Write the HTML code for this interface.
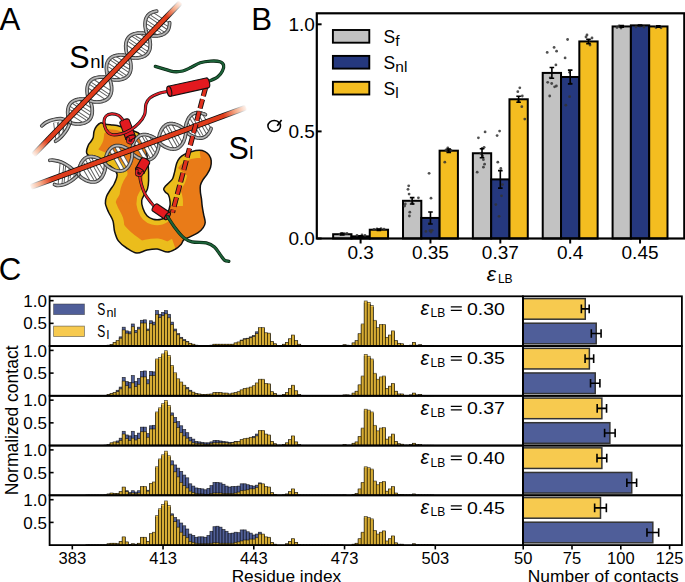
<!DOCTYPE html>
<html><head><meta charset="utf-8"><style>html,body{margin:0;padding:0;background:#fff;}svg{display:block;}</style></head>
<body><svg width="685" height="582" viewBox="0 0 685 582">
<defs>
<clipPath id="blobclip"><path d="M96.5 126.3 C97.6 124.9 99.1 123.2 100.6 122.9 C102.1 122.6 103.6 123.9 105.4 124.2 C107.2 124.5 109.6 124.7 111.6 124.9 C113.5 125.1 114.9 125.1 117.1 125.6 C119.3 126.1 122.2 127.1 125.0 128.0 C127.8 128.9 131.1 129.9 133.6 131.0 C136.1 132.1 138.0 131.7 140.0 134.5 C142.0 137.3 144.1 142.9 145.5 148.0 C146.9 153.1 147.7 159.6 148.2 165.0 C148.7 170.4 148.7 176.6 148.6 180.6 C148.5 184.6 148.2 186.6 147.5 188.9 C146.8 191.2 145.5 192.5 144.5 194.4 C143.5 196.3 142.0 198.2 141.7 200.5 C141.4 202.8 142.0 205.6 142.9 208.2 C143.8 210.8 145.3 214.0 147.0 215.8 C148.7 217.6 150.7 218.6 153.1 219.2 C155.5 219.8 159.1 219.7 161.3 219.2 C163.5 218.7 165.1 218.2 166.5 216.0 C167.9 213.8 169.3 208.6 169.9 206.0 C170.5 203.4 170.1 202.3 169.9 200.5 C169.7 198.7 169.2 196.4 168.5 195.0 C167.8 193.6 166.3 193.2 165.5 192.2 C164.7 191.2 163.7 190.2 163.7 189.2 C163.7 188.2 164.4 187.4 165.3 186.3 C166.2 185.2 168.0 183.9 169.2 182.6 C170.4 181.3 171.8 180.3 172.7 178.5 C173.6 176.7 174.0 174.1 174.7 171.6 C175.3 169.1 175.8 165.7 176.6 163.4 C177.4 161.1 178.3 159.4 179.6 157.9 C180.9 156.4 182.5 155.4 184.4 154.4 C186.3 153.4 188.7 152.4 191.2 151.7 C193.7 151.0 197.2 150.3 199.5 150.3 C201.8 150.3 203.4 150.9 205.0 151.7 C206.6 152.5 208.1 153.6 209.1 155.1 C210.1 156.6 211.0 158.5 211.2 160.6 C211.4 162.7 211.2 165.2 210.5 167.5 C209.8 169.8 208.3 172.3 207.0 174.4 C205.7 176.5 204.0 178.1 202.9 179.9 C201.8 181.7 200.8 183.4 200.4 185.4 C200.0 187.4 200.2 189.9 200.4 192.2 C200.6 194.5 201.2 196.8 201.5 199.1 C201.8 201.4 201.8 203.6 202.2 206.1 C202.5 208.6 203.1 211.6 203.6 214.3 C204.1 217.0 205.3 220.3 205.2 222.5 C205.1 224.7 204.4 225.9 203.2 227.6 C202.0 229.3 200.3 231.2 198.1 232.7 C195.9 234.2 192.3 235.6 189.9 236.8 C187.5 238.0 185.3 238.6 183.8 239.9 C182.3 241.2 182.4 243.0 181.0 244.5 C179.6 246.0 177.9 247.7 175.6 249.0 C173.3 250.3 170.5 252.1 167.4 252.1 C164.3 252.1 160.6 249.3 157.2 249.0 C153.8 248.7 150.4 249.4 147.0 250.1 C143.6 250.8 140.2 253.4 136.8 253.1 C133.4 252.8 129.7 250.0 126.6 248.0 C123.5 246.0 120.4 243.7 118.4 240.9 C116.4 238.2 115.5 234.8 114.6 231.5 C113.7 228.2 114.0 224.2 113.0 221.0 C112.0 217.8 109.8 214.9 108.5 212.0 C107.2 209.1 105.7 206.1 105.4 203.5 C105.1 200.9 105.7 198.8 106.5 196.5 C107.3 194.2 109.2 191.7 110.5 189.5 C111.8 187.3 113.3 186.1 114.4 183.5 C115.5 180.9 117.7 176.9 117.0 174.0 C116.3 171.1 113.5 168.3 110.0 166.0 C106.5 163.7 99.8 162.1 96.0 160.0 C92.2 157.9 88.2 156.0 86.9 153.6 C85.6 151.2 87.5 147.5 88.2 145.5 C88.9 143.5 90.2 142.8 91.0 141.5 C91.8 140.2 92.7 139.2 93.2 137.5 C93.7 135.8 93.5 133.4 94.0 131.5 C94.5 129.6 95.4 127.7 96.5 126.3 Z"/></clipPath>
</defs>
<line x1="60.5" y1="121.5" x2="61.5" y2="134.5" stroke="#5c5c5c" stroke-width="4.7"/>
<line x1="60.5" y1="121.5" x2="61.5" y2="134.5" stroke="#fff" stroke-width="2.8"/>
<line x1="55.5" y1="122.5" x2="57.5" y2="138.5" stroke="#5c5c5c" stroke-width="4.7"/>
<line x1="55.5" y1="122.5" x2="57.5" y2="138.5" stroke="#fff" stroke-width="2.8"/>
<line x1="65.5" y1="120.5" x2="65.5" y2="130.5" stroke="#5c5c5c" stroke-width="4.7"/>
<line x1="65.5" y1="120.5" x2="65.5" y2="130.5" stroke="#fff" stroke-width="2.8"/>
<path d="M70.2 122.3 C68.8 121.7 64.9 119.2 62.0 118.8 C59.1 118.4 55.7 119.2 53.0 119.8 C50.3 120.4 47.9 121.5 46.0 122.5 C44.1 123.5 42.5 125.2 41.8 125.8" fill="none" stroke="#2e2e2e" stroke-width="3.7" stroke-linecap="round" stroke-linejoin="round"/>
<path d="M70.2 122.3 C68.8 121.7 64.9 119.2 62.0 118.8 C59.1 118.4 55.7 119.2 53.0 119.8 C50.3 120.4 47.9 121.5 46.0 122.5 C44.1 123.5 42.5 125.2 41.8 125.8" fill="none" stroke="#8c8c8c" stroke-width="2.3" stroke-linecap="round" stroke-linejoin="round"/>
<path d="M70.2 122.3 C68.8 121.7 64.9 119.2 62.0 118.8 C59.1 118.4 55.7 119.2 53.0 119.8 C50.3 120.4 47.9 121.5 46.0 122.5 C44.1 123.5 42.5 125.2 41.8 125.8" fill="none" stroke="#d8d8d8" stroke-width="0.8" stroke-linecap="round" stroke-linejoin="round"/>
<path d="M70.2 122.3 C69.7 123.4 68.4 126.9 67.2 129.0 C66.0 131.1 64.4 133.1 63.0 134.8 C61.6 136.5 59.8 138.1 58.6 139.2 C57.4 140.3 56.1 140.9 55.6 141.2" fill="none" stroke="#2e2e2e" stroke-width="3.7" stroke-linecap="round" stroke-linejoin="round"/>
<path d="M70.2 122.3 C69.7 123.4 68.4 126.9 67.2 129.0 C66.0 131.1 64.4 133.1 63.0 134.8 C61.6 136.5 59.8 138.1 58.6 139.2 C57.4 140.3 56.1 140.9 55.6 141.2" fill="none" stroke="#8c8c8c" stroke-width="2.3" stroke-linecap="round" stroke-linejoin="round"/>
<path d="M70.2 122.3 C69.7 123.4 68.4 126.9 67.2 129.0 C66.0 131.1 64.4 133.1 63.0 134.8 C61.6 136.5 59.8 138.1 58.6 139.2 C57.4 140.3 56.1 140.9 55.6 141.2" fill="none" stroke="#d8d8d8" stroke-width="0.8" stroke-linecap="round" stroke-linejoin="round"/>
<line x1="68.9" y1="111.2" x2="84.8" y2="121.5" stroke="#5c5c5c" stroke-width="4.7"/>
<line x1="68.9" y1="111.2" x2="84.8" y2="121.5" stroke="#fff" stroke-width="2.8"/>
<line x1="71.2" y1="104.8" x2="89.5" y2="117.1" stroke="#5c5c5c" stroke-width="4.7"/>
<line x1="71.2" y1="104.8" x2="89.5" y2="117.1" stroke="#fff" stroke-width="2.8"/>
<line x1="76.6" y1="101.0" x2="91.2" y2="110.1" stroke="#5c5c5c" stroke-width="4.7"/>
<line x1="76.6" y1="101.0" x2="91.2" y2="110.1" stroke="#fff" stroke-width="2.8"/>
<line x1="88.8" y1="86.2" x2="106.5" y2="98.0" stroke="#5c5c5c" stroke-width="4.7"/>
<line x1="88.8" y1="86.2" x2="106.5" y2="98.0" stroke="#fff" stroke-width="2.8"/>
<line x1="92.4" y1="80.8" x2="110.0" y2="92.5" stroke="#5c5c5c" stroke-width="4.7"/>
<line x1="92.4" y1="80.8" x2="110.0" y2="92.5" stroke="#fff" stroke-width="2.8"/>
<line x1="107.5" y1="68.5" x2="122.4" y2="77.9" stroke="#5c5c5c" stroke-width="4.7"/>
<line x1="107.5" y1="68.5" x2="122.4" y2="77.9" stroke="#fff" stroke-width="2.8"/>
<line x1="109.3" y1="61.6" x2="127.7" y2="74.0" stroke="#5c5c5c" stroke-width="4.7"/>
<line x1="109.3" y1="61.6" x2="127.7" y2="74.0" stroke="#fff" stroke-width="2.8"/>
<line x1="114.2" y1="57.4" x2="129.8" y2="67.4" stroke="#5c5c5c" stroke-width="4.7"/>
<line x1="114.2" y1="57.4" x2="129.8" y2="67.4" stroke="#fff" stroke-width="2.8"/>
<line x1="127.2" y1="43.2" x2="144.3" y2="54.6" stroke="#5c5c5c" stroke-width="4.7"/>
<line x1="127.2" y1="43.2" x2="144.3" y2="54.6" stroke="#fff" stroke-width="2.8"/>
<line x1="130.3" y1="37.5" x2="148.3" y2="49.5" stroke="#5c5c5c" stroke-width="4.7"/>
<line x1="130.3" y1="37.5" x2="148.3" y2="49.5" stroke="#fff" stroke-width="2.8"/>
<line x1="136.6" y1="34.4" x2="149.1" y2="41.8" stroke="#5c5c5c" stroke-width="4.7"/>
<line x1="136.6" y1="34.4" x2="149.1" y2="41.8" stroke="#fff" stroke-width="2.8"/>
<line x1="146.1" y1="25.8" x2="160.0" y2="34.2" stroke="#5c5c5c" stroke-width="4.7"/>
<line x1="146.1" y1="25.8" x2="160.0" y2="34.2" stroke="#fff" stroke-width="2.8"/>
<line x1="147.5" y1="18.5" x2="165.7" y2="30.8" stroke="#5c5c5c" stroke-width="4.7"/>
<line x1="147.5" y1="18.5" x2="165.7" y2="30.8" stroke="#fff" stroke-width="2.8"/>
<line x1="151.9" y1="13.9" x2="168.4" y2="24.6" stroke="#5c5c5c" stroke-width="4.7"/>
<line x1="151.9" y1="13.9" x2="168.4" y2="24.6" stroke="#fff" stroke-width="2.8"/>
<path d="M70.3 122.5 L72.5 123.4 L74.1 123.7 L75.5 123.9 L76.8 123.9 L78.1 124.0 L79.2 123.9 L80.4 123.8 L81.4 123.7 L82.4 123.5 L83.4 123.3 L84.3 123.0 L85.1 122.7 L85.9 122.3 L86.7 121.9 L87.4 121.5 L88.1 121.0 L88.7 120.5 L89.3 119.9 L89.8 119.3 L90.3 118.6 L90.7 117.9 L91.0 117.2 L91.4 116.4 L91.6 115.6 L91.9 114.7 L92.0 113.8 L92.2 112.8 L92.2 111.8 L92.3 110.8 L92.2 109.7 L92.2 108.5 L92.0 107.3 L91.8 106.1 L91.5 104.8 L91.1 103.3 L90.4 101.6 L88.9 99.2 L88.2 97.6 L87.8 96.1 L87.5 94.8 L87.3 93.6 L87.2 92.4 L87.1 91.2 L87.1 90.1 L87.1 89.1 L87.2 88.1 L87.3 87.1 L87.5 86.2 L87.7 85.4 L88.0 84.5 L88.3 83.8 L88.7 83.0 L89.1 82.3 L89.6 81.7 L90.1 81.1 L90.7 80.5 L91.3 80.0 L92.0 79.5 L92.7 79.0 L93.5 78.6 L94.3 78.3 L95.1 78.0 L96.0 77.7 L97.0 77.5 L98.0 77.3 L99.1 77.2 L100.2 77.1 L101.4 77.0 L102.6 77.1 L103.9 77.1 L105.3 77.3 L106.9 77.7 L109.3 78.7 L111.4 79.4 L112.9 79.7 L114.3 79.9 L115.6 79.9 L116.9 80.0 L118.0 79.9 L119.1 79.8 L120.2 79.7 L121.2 79.5 L122.1 79.2 L123.0 79.0 L123.9 78.6 L124.7 78.3 L125.4 77.9 L126.2 77.4 L126.8 76.9 L127.4 76.4 L128.0 75.8 L128.5 75.2 L129.0 74.5 L129.4 73.8 L129.7 73.1 L130.1 72.3 L130.3 71.5 L130.6 70.6 L130.7 69.7 L130.9 68.7 L130.9 67.7 L130.9 66.7 L130.9 65.6 L130.8 64.4 L130.7 63.2 L130.5 62.0 L130.2 60.6 L129.7 59.2 L129.0 57.5 L127.5 55.0 L126.8 53.4 L126.4 52.0 L126.2 50.7 L126.0 49.4 L125.8 48.3 L125.8 47.1 L125.7 46.0 L125.8 45.0 L125.9 44.0 L126.0 43.1 L126.2 42.2 L126.4 41.3 L126.7 40.5 L127.0 39.7 L127.4 39.0 L127.8 38.3 L128.3 37.6 L128.8 37.0 L129.4 36.4 L130.0 35.9 L130.7 35.4 L131.4 35.0 L132.2 34.6 L133.0 34.3 L133.9 33.9 L134.8 33.7 L135.8 33.5 L136.8 33.3 L137.8 33.1 L139.0 33.1 L140.1 33.0 L141.4 33.0 L142.7 33.1 L144.1 33.3 L145.8 33.7 L148.3 34.8 L150.2 35.4 L151.7 35.7 L153.1 35.9 L154.4 35.9 L155.6 35.9 L156.8 35.9 L157.9 35.8 L158.9 35.6 L159.9 35.4 L160.9 35.2 L161.8 34.9 L162.6 34.6 L163.4 34.2 L164.2 33.8 L164.9 33.4 L165.5 32.9 L166.1 32.3 L166.7 31.8 L167.2 31.1 L167.7 30.5 L168.1 29.8 L168.5 29.0 L168.8 28.2 L169.0 27.4 L169.2 26.5 L169.4 25.6 L169.5 24.6 L169.6 23.6 L169.6 22.6" fill="none" stroke="#2e2e2e" stroke-width="3.7" stroke-linecap="round" stroke-linejoin="round"/>
<path d="M70.3 122.5 L72.5 123.4 L74.1 123.7 L75.5 123.9 L76.8 123.9 L78.1 124.0 L79.2 123.9 L80.4 123.8 L81.4 123.7 L82.4 123.5 L83.4 123.3 L84.3 123.0 L85.1 122.7 L85.9 122.3 L86.7 121.9 L87.4 121.5 L88.1 121.0 L88.7 120.5 L89.3 119.9 L89.8 119.3 L90.3 118.6 L90.7 117.9 L91.0 117.2 L91.4 116.4 L91.6 115.6 L91.9 114.7 L92.0 113.8 L92.2 112.8 L92.2 111.8 L92.3 110.8 L92.2 109.7 L92.2 108.5 L92.0 107.3 L91.8 106.1 L91.5 104.8 L91.1 103.3 L90.4 101.6 L88.9 99.2 L88.2 97.6 L87.8 96.1 L87.5 94.8 L87.3 93.6 L87.2 92.4 L87.1 91.2 L87.1 90.1 L87.1 89.1 L87.2 88.1 L87.3 87.1 L87.5 86.2 L87.7 85.4 L88.0 84.5 L88.3 83.8 L88.7 83.0 L89.1 82.3 L89.6 81.7 L90.1 81.1 L90.7 80.5 L91.3 80.0 L92.0 79.5 L92.7 79.0 L93.5 78.6 L94.3 78.3 L95.1 78.0 L96.0 77.7 L97.0 77.5 L98.0 77.3 L99.1 77.2 L100.2 77.1 L101.4 77.0 L102.6 77.1 L103.9 77.1 L105.3 77.3 L106.9 77.7 L109.3 78.7 L111.4 79.4 L112.9 79.7 L114.3 79.9 L115.6 79.9 L116.9 80.0 L118.0 79.9 L119.1 79.8 L120.2 79.7 L121.2 79.5 L122.1 79.2 L123.0 79.0 L123.9 78.6 L124.7 78.3 L125.4 77.9 L126.2 77.4 L126.8 76.9 L127.4 76.4 L128.0 75.8 L128.5 75.2 L129.0 74.5 L129.4 73.8 L129.7 73.1 L130.1 72.3 L130.3 71.5 L130.6 70.6 L130.7 69.7 L130.9 68.7 L130.9 67.7 L130.9 66.7 L130.9 65.6 L130.8 64.4 L130.7 63.2 L130.5 62.0 L130.2 60.6 L129.7 59.2 L129.0 57.5 L127.5 55.0 L126.8 53.4 L126.4 52.0 L126.2 50.7 L126.0 49.4 L125.8 48.3 L125.8 47.1 L125.7 46.0 L125.8 45.0 L125.9 44.0 L126.0 43.1 L126.2 42.2 L126.4 41.3 L126.7 40.5 L127.0 39.7 L127.4 39.0 L127.8 38.3 L128.3 37.6 L128.8 37.0 L129.4 36.4 L130.0 35.9 L130.7 35.4 L131.4 35.0 L132.2 34.6 L133.0 34.3 L133.9 33.9 L134.8 33.7 L135.8 33.5 L136.8 33.3 L137.8 33.1 L139.0 33.1 L140.1 33.0 L141.4 33.0 L142.7 33.1 L144.1 33.3 L145.8 33.7 L148.3 34.8 L150.2 35.4 L151.7 35.7 L153.1 35.9 L154.4 35.9 L155.6 35.9 L156.8 35.9 L157.9 35.8 L158.9 35.6 L159.9 35.4 L160.9 35.2 L161.8 34.9 L162.6 34.6 L163.4 34.2 L164.2 33.8 L164.9 33.4 L165.5 32.9 L166.1 32.3 L166.7 31.8 L167.2 31.1 L167.7 30.5 L168.1 29.8 L168.5 29.0 L168.8 28.2 L169.0 27.4 L169.2 26.5 L169.4 25.6 L169.5 24.6 L169.6 23.6 L169.6 22.6" fill="none" stroke="#8c8c8c" stroke-width="2.3" stroke-linecap="round" stroke-linejoin="round"/>
<path d="M70.3 122.5 L72.5 123.4 L74.1 123.7 L75.5 123.9 L76.8 123.9 L78.1 124.0 L79.2 123.9 L80.4 123.8 L81.4 123.7 L82.4 123.5 L83.4 123.3 L84.3 123.0 L85.1 122.7 L85.9 122.3 L86.7 121.9 L87.4 121.5 L88.1 121.0 L88.7 120.5 L89.3 119.9 L89.8 119.3 L90.3 118.6 L90.7 117.9 L91.0 117.2 L91.4 116.4 L91.6 115.6 L91.9 114.7 L92.0 113.8 L92.2 112.8 L92.2 111.8 L92.3 110.8 L92.2 109.7 L92.2 108.5 L92.0 107.3 L91.8 106.1 L91.5 104.8 L91.1 103.3 L90.4 101.6 L88.9 99.2 L88.2 97.6 L87.8 96.1 L87.5 94.8 L87.3 93.6 L87.2 92.4 L87.1 91.2 L87.1 90.1 L87.1 89.1 L87.2 88.1 L87.3 87.1 L87.5 86.2 L87.7 85.4 L88.0 84.5 L88.3 83.8 L88.7 83.0 L89.1 82.3 L89.6 81.7 L90.1 81.1 L90.7 80.5 L91.3 80.0 L92.0 79.5 L92.7 79.0 L93.5 78.6 L94.3 78.3 L95.1 78.0 L96.0 77.7 L97.0 77.5 L98.0 77.3 L99.1 77.2 L100.2 77.1 L101.4 77.0 L102.6 77.1 L103.9 77.1 L105.3 77.3 L106.9 77.7 L109.3 78.7 L111.4 79.4 L112.9 79.7 L114.3 79.9 L115.6 79.9 L116.9 80.0 L118.0 79.9 L119.1 79.8 L120.2 79.7 L121.2 79.5 L122.1 79.2 L123.0 79.0 L123.9 78.6 L124.7 78.3 L125.4 77.9 L126.2 77.4 L126.8 76.9 L127.4 76.4 L128.0 75.8 L128.5 75.2 L129.0 74.5 L129.4 73.8 L129.7 73.1 L130.1 72.3 L130.3 71.5 L130.6 70.6 L130.7 69.7 L130.9 68.7 L130.9 67.7 L130.9 66.7 L130.9 65.6 L130.8 64.4 L130.7 63.2 L130.5 62.0 L130.2 60.6 L129.7 59.2 L129.0 57.5 L127.5 55.0 L126.8 53.4 L126.4 52.0 L126.2 50.7 L126.0 49.4 L125.8 48.3 L125.8 47.1 L125.7 46.0 L125.8 45.0 L125.9 44.0 L126.0 43.1 L126.2 42.2 L126.4 41.3 L126.7 40.5 L127.0 39.7 L127.4 39.0 L127.8 38.3 L128.3 37.6 L128.8 37.0 L129.4 36.4 L130.0 35.9 L130.7 35.4 L131.4 35.0 L132.2 34.6 L133.0 34.3 L133.9 33.9 L134.8 33.7 L135.8 33.5 L136.8 33.3 L137.8 33.1 L139.0 33.1 L140.1 33.0 L141.4 33.0 L142.7 33.1 L144.1 33.3 L145.8 33.7 L148.3 34.8 L150.2 35.4 L151.7 35.7 L153.1 35.9 L154.4 35.9 L155.6 35.9 L156.8 35.9 L157.9 35.8 L158.9 35.6 L159.9 35.4 L160.9 35.2 L161.8 34.9 L162.6 34.6 L163.4 34.2 L164.2 33.8 L164.9 33.4 L165.5 32.9 L166.1 32.3 L166.7 31.8 L167.2 31.1 L167.7 30.5 L168.1 29.8 L168.5 29.0 L168.8 28.2 L169.0 27.4 L169.2 26.5 L169.4 25.6 L169.5 24.6 L169.6 23.6 L169.6 22.6" fill="none" stroke="#d8d8d8" stroke-width="0.8" stroke-linecap="round" stroke-linejoin="round"/>
<path d="M70.3 122.5 L69.2 120.4 L68.7 118.9 L68.3 117.5 L68.1 116.2 L67.9 115.0 L67.8 113.8 L67.7 112.7 L67.7 111.7 L67.8 110.6 L67.9 109.7 L68.1 108.7 L68.3 107.8 L68.5 107.0 L68.8 106.2 L69.2 105.4 L69.6 104.7 L70.0 104.0 L70.5 103.4 L71.0 102.8 L71.6 102.2 L72.3 101.7 L73.0 101.3 L73.7 100.9 L74.5 100.5 L75.3 100.1 L76.2 99.9 L77.1 99.6 L78.1 99.4 L79.2 99.2 L80.2 99.1 L81.4 99.1 L82.6 99.0 L83.9 99.1 L85.2 99.2 L86.7 99.5 L88.4 99.9 L91.1 101.1 L92.8 101.6 L94.2 101.8 L95.6 101.9 L96.9 102.0 L98.1 101.9 L99.2 101.9 L100.3 101.8 L101.3 101.6 L102.3 101.4 L103.2 101.1 L104.1 100.8 L104.9 100.5 L105.7 100.1 L106.4 99.7 L107.1 99.2 L107.8 98.7 L108.3 98.2 L108.9 97.6 L109.4 96.9 L109.8 96.2 L110.2 95.5 L110.6 94.7 L110.9 93.9 L111.1 93.1 L111.3 92.2 L111.5 91.3 L111.6 90.3 L111.6 89.2 L111.6 88.2 L111.6 87.1 L111.4 85.9 L111.3 84.7 L111.0 83.4 L110.6 82.0 L110.1 80.4 L108.8 78.2 L107.8 76.3 L107.3 74.8 L107.0 73.4 L106.7 72.1 L106.6 70.9 L106.5 69.7 L106.4 68.6 L106.4 67.6 L106.5 66.6 L106.6 65.6 L106.7 64.6 L106.9 63.8 L107.2 62.9 L107.5 62.1 L107.9 61.4 L108.3 60.6 L108.7 60.0 L109.2 59.3 L109.8 58.7 L110.4 58.2 L111.0 57.7 L111.7 57.2 L112.4 56.8 L113.2 56.4 L114.1 56.1 L115.0 55.8 L115.9 55.6 L116.9 55.4 L117.9 55.2 L119.0 55.1 L120.2 55.0 L121.4 55.0 L122.6 55.1 L124.0 55.2 L125.5 55.5 L127.3 56.0 L129.9 57.2 L131.6 57.6 L133.0 57.8 L134.4 57.9 L135.6 58.0 L136.8 57.9 L138.0 57.9 L139.0 57.7 L140.1 57.6 L141.0 57.3 L142.0 57.1 L142.8 56.8 L143.7 56.4 L144.4 56.1 L145.2 55.6 L145.9 55.2 L146.5 54.7 L147.1 54.1 L147.6 53.5 L148.1 52.9 L148.5 52.2 L148.9 51.4 L149.3 50.7 L149.6 49.9 L149.8 49.0 L150.0 48.1 L150.1 47.2 L150.2 46.2 L150.3 45.1 L150.3 44.1 L150.2 43.0 L150.1 41.8 L149.9 40.5 L149.7 39.2 L149.3 37.9 L148.7 36.3 L147.3 34.0 L146.4 32.1 L145.9 30.6 L145.6 29.3 L145.4 28.0 L145.2 26.8 L145.1 25.6 L145.1 24.5 L145.1 23.5 L145.2 22.5 L145.3 21.5 L145.4 20.6 L145.6 19.7 L145.9 18.8 L146.2 18.0 L146.6 17.3 L147.0 16.6 L147.4 15.9 L147.9 15.3 L148.5 14.7 L149.1 14.1 L149.7 13.6 L150.4 13.2 L151.2 12.8 L152.0 12.4 L152.8 12.1 L153.7 11.8 L154.6 11.5 L155.6 11.3 L156.7 11.2" fill="none" stroke="#2e2e2e" stroke-width="3.7" stroke-linecap="round" stroke-linejoin="round"/>
<path d="M70.3 122.5 L69.2 120.4 L68.7 118.9 L68.3 117.5 L68.1 116.2 L67.9 115.0 L67.8 113.8 L67.7 112.7 L67.7 111.7 L67.8 110.6 L67.9 109.7 L68.1 108.7 L68.3 107.8 L68.5 107.0 L68.8 106.2 L69.2 105.4 L69.6 104.7 L70.0 104.0 L70.5 103.4 L71.0 102.8 L71.6 102.2 L72.3 101.7 L73.0 101.3 L73.7 100.9 L74.5 100.5 L75.3 100.1 L76.2 99.9 L77.1 99.6 L78.1 99.4 L79.2 99.2 L80.2 99.1 L81.4 99.1 L82.6 99.0 L83.9 99.1 L85.2 99.2 L86.7 99.5 L88.4 99.9 L91.1 101.1 L92.8 101.6 L94.2 101.8 L95.6 101.9 L96.9 102.0 L98.1 101.9 L99.2 101.9 L100.3 101.8 L101.3 101.6 L102.3 101.4 L103.2 101.1 L104.1 100.8 L104.9 100.5 L105.7 100.1 L106.4 99.7 L107.1 99.2 L107.8 98.7 L108.3 98.2 L108.9 97.6 L109.4 96.9 L109.8 96.2 L110.2 95.5 L110.6 94.7 L110.9 93.9 L111.1 93.1 L111.3 92.2 L111.5 91.3 L111.6 90.3 L111.6 89.2 L111.6 88.2 L111.6 87.1 L111.4 85.9 L111.3 84.7 L111.0 83.4 L110.6 82.0 L110.1 80.4 L108.8 78.2 L107.8 76.3 L107.3 74.8 L107.0 73.4 L106.7 72.1 L106.6 70.9 L106.5 69.7 L106.4 68.6 L106.4 67.6 L106.5 66.6 L106.6 65.6 L106.7 64.6 L106.9 63.8 L107.2 62.9 L107.5 62.1 L107.9 61.4 L108.3 60.6 L108.7 60.0 L109.2 59.3 L109.8 58.7 L110.4 58.2 L111.0 57.7 L111.7 57.2 L112.4 56.8 L113.2 56.4 L114.1 56.1 L115.0 55.8 L115.9 55.6 L116.9 55.4 L117.9 55.2 L119.0 55.1 L120.2 55.0 L121.4 55.0 L122.6 55.1 L124.0 55.2 L125.5 55.5 L127.3 56.0 L129.9 57.2 L131.6 57.6 L133.0 57.8 L134.4 57.9 L135.6 58.0 L136.8 57.9 L138.0 57.9 L139.0 57.7 L140.1 57.6 L141.0 57.3 L142.0 57.1 L142.8 56.8 L143.7 56.4 L144.4 56.1 L145.2 55.6 L145.9 55.2 L146.5 54.7 L147.1 54.1 L147.6 53.5 L148.1 52.9 L148.5 52.2 L148.9 51.4 L149.3 50.7 L149.6 49.9 L149.8 49.0 L150.0 48.1 L150.1 47.2 L150.2 46.2 L150.3 45.1 L150.3 44.1 L150.2 43.0 L150.1 41.8 L149.9 40.5 L149.7 39.2 L149.3 37.9 L148.7 36.3 L147.3 34.0 L146.4 32.1 L145.9 30.6 L145.6 29.3 L145.4 28.0 L145.2 26.8 L145.1 25.6 L145.1 24.5 L145.1 23.5 L145.2 22.5 L145.3 21.5 L145.4 20.6 L145.6 19.7 L145.9 18.8 L146.2 18.0 L146.6 17.3 L147.0 16.6 L147.4 15.9 L147.9 15.3 L148.5 14.7 L149.1 14.1 L149.7 13.6 L150.4 13.2 L151.2 12.8 L152.0 12.4 L152.8 12.1 L153.7 11.8 L154.6 11.5 L155.6 11.3 L156.7 11.2" fill="none" stroke="#8c8c8c" stroke-width="2.3" stroke-linecap="round" stroke-linejoin="round"/>
<path d="M70.3 122.5 L69.2 120.4 L68.7 118.9 L68.3 117.5 L68.1 116.2 L67.9 115.0 L67.8 113.8 L67.7 112.7 L67.7 111.7 L67.8 110.6 L67.9 109.7 L68.1 108.7 L68.3 107.8 L68.5 107.0 L68.8 106.2 L69.2 105.4 L69.6 104.7 L70.0 104.0 L70.5 103.4 L71.0 102.8 L71.6 102.2 L72.3 101.7 L73.0 101.3 L73.7 100.9 L74.5 100.5 L75.3 100.1 L76.2 99.9 L77.1 99.6 L78.1 99.4 L79.2 99.2 L80.2 99.1 L81.4 99.1 L82.6 99.0 L83.9 99.1 L85.2 99.2 L86.7 99.5 L88.4 99.9 L91.1 101.1 L92.8 101.6 L94.2 101.8 L95.6 101.9 L96.9 102.0 L98.1 101.9 L99.2 101.9 L100.3 101.8 L101.3 101.6 L102.3 101.4 L103.2 101.1 L104.1 100.8 L104.9 100.5 L105.7 100.1 L106.4 99.7 L107.1 99.2 L107.8 98.7 L108.3 98.2 L108.9 97.6 L109.4 96.9 L109.8 96.2 L110.2 95.5 L110.6 94.7 L110.9 93.9 L111.1 93.1 L111.3 92.2 L111.5 91.3 L111.6 90.3 L111.6 89.2 L111.6 88.2 L111.6 87.1 L111.4 85.9 L111.3 84.7 L111.0 83.4 L110.6 82.0 L110.1 80.4 L108.8 78.2 L107.8 76.3 L107.3 74.8 L107.0 73.4 L106.7 72.1 L106.6 70.9 L106.5 69.7 L106.4 68.6 L106.4 67.6 L106.5 66.6 L106.6 65.6 L106.7 64.6 L106.9 63.8 L107.2 62.9 L107.5 62.1 L107.9 61.4 L108.3 60.6 L108.7 60.0 L109.2 59.3 L109.8 58.7 L110.4 58.2 L111.0 57.7 L111.7 57.2 L112.4 56.8 L113.2 56.4 L114.1 56.1 L115.0 55.8 L115.9 55.6 L116.9 55.4 L117.9 55.2 L119.0 55.1 L120.2 55.0 L121.4 55.0 L122.6 55.1 L124.0 55.2 L125.5 55.5 L127.3 56.0 L129.9 57.2 L131.6 57.6 L133.0 57.8 L134.4 57.9 L135.6 58.0 L136.8 57.9 L138.0 57.9 L139.0 57.7 L140.1 57.6 L141.0 57.3 L142.0 57.1 L142.8 56.8 L143.7 56.4 L144.4 56.1 L145.2 55.6 L145.9 55.2 L146.5 54.7 L147.1 54.1 L147.6 53.5 L148.1 52.9 L148.5 52.2 L148.9 51.4 L149.3 50.7 L149.6 49.9 L149.8 49.0 L150.0 48.1 L150.1 47.2 L150.2 46.2 L150.3 45.1 L150.3 44.1 L150.2 43.0 L150.1 41.8 L149.9 40.5 L149.7 39.2 L149.3 37.9 L148.7 36.3 L147.3 34.0 L146.4 32.1 L145.9 30.6 L145.6 29.3 L145.4 28.0 L145.2 26.8 L145.1 25.6 L145.1 24.5 L145.1 23.5 L145.2 22.5 L145.3 21.5 L145.4 20.6 L145.6 19.7 L145.9 18.8 L146.2 18.0 L146.6 17.3 L147.0 16.6 L147.4 15.9 L147.9 15.3 L148.5 14.7 L149.1 14.1 L149.7 13.6 L150.4 13.2 L151.2 12.8 L152.0 12.4 L152.8 12.1 L153.7 11.8 L154.6 11.5 L155.6 11.3 L156.7 11.2" fill="none" stroke="#d8d8d8" stroke-width="0.8" stroke-linecap="round" stroke-linejoin="round"/>
<linearGradient id="rg1" gradientUnits="userSpaceOnUse" x1="33.3" y1="155.0" x2="180.5" y2="2.4"><stop offset="0" stop-color="#fdf3ee"/><stop offset="0.042" stop-color="#f6b08e"/><stop offset="0.094" stop-color="#df3c1b"/><stop offset="0.906" stop-color="#df3c1b"/><stop offset="0.958" stop-color="#f6b08e"/><stop offset="1" stop-color="#fdf3ee"/></linearGradient>
<linearGradient id="rg1k" gradientUnits="userSpaceOnUse" x1="33.3" y1="155.0" x2="180.5" y2="2.4"><stop offset="0" stop-color="#000" stop-opacity="0"/><stop offset="0.094" stop-color="#000" stop-opacity="0.95"/><stop offset="0.906" stop-color="#000" stop-opacity="0.95"/><stop offset="1" stop-color="#000" stop-opacity="0"/></linearGradient>
<line x1="33.3" y1="155.0" x2="180.5" y2="2.4" stroke="url(#rg1k)" stroke-width="5.800000000000001"/>
<line x1="33.3" y1="155.0" x2="180.5" y2="2.4" stroke="url(#rg1)" stroke-width="4.2"/>
<path d="M96.5 126.3 C97.6 124.9 99.1 123.2 100.6 122.9 C102.1 122.6 103.6 123.9 105.4 124.2 C107.2 124.5 109.6 124.7 111.6 124.9 C113.5 125.1 114.9 125.1 117.1 125.6 C119.3 126.1 122.2 127.1 125.0 128.0 C127.8 128.9 131.1 129.9 133.6 131.0 C136.1 132.1 138.0 131.7 140.0 134.5 C142.0 137.3 144.1 142.9 145.5 148.0 C146.9 153.1 147.7 159.6 148.2 165.0 C148.7 170.4 148.7 176.6 148.6 180.6 C148.5 184.6 148.2 186.6 147.5 188.9 C146.8 191.2 145.5 192.5 144.5 194.4 C143.5 196.3 142.0 198.2 141.7 200.5 C141.4 202.8 142.0 205.6 142.9 208.2 C143.8 210.8 145.3 214.0 147.0 215.8 C148.7 217.6 150.7 218.6 153.1 219.2 C155.5 219.8 159.1 219.7 161.3 219.2 C163.5 218.7 165.1 218.2 166.5 216.0 C167.9 213.8 169.3 208.6 169.9 206.0 C170.5 203.4 170.1 202.3 169.9 200.5 C169.7 198.7 169.2 196.4 168.5 195.0 C167.8 193.6 166.3 193.2 165.5 192.2 C164.7 191.2 163.7 190.2 163.7 189.2 C163.7 188.2 164.4 187.4 165.3 186.3 C166.2 185.2 168.0 183.9 169.2 182.6 C170.4 181.3 171.8 180.3 172.7 178.5 C173.6 176.7 174.0 174.1 174.7 171.6 C175.3 169.1 175.8 165.7 176.6 163.4 C177.4 161.1 178.3 159.4 179.6 157.9 C180.9 156.4 182.5 155.4 184.4 154.4 C186.3 153.4 188.7 152.4 191.2 151.7 C193.7 151.0 197.2 150.3 199.5 150.3 C201.8 150.3 203.4 150.9 205.0 151.7 C206.6 152.5 208.1 153.6 209.1 155.1 C210.1 156.6 211.0 158.5 211.2 160.6 C211.4 162.7 211.2 165.2 210.5 167.5 C209.8 169.8 208.3 172.3 207.0 174.4 C205.7 176.5 204.0 178.1 202.9 179.9 C201.8 181.7 200.8 183.4 200.4 185.4 C200.0 187.4 200.2 189.9 200.4 192.2 C200.6 194.5 201.2 196.8 201.5 199.1 C201.8 201.4 201.8 203.6 202.2 206.1 C202.5 208.6 203.1 211.6 203.6 214.3 C204.1 217.0 205.3 220.3 205.2 222.5 C205.1 224.7 204.4 225.9 203.2 227.6 C202.0 229.3 200.3 231.2 198.1 232.7 C195.9 234.2 192.3 235.6 189.9 236.8 C187.5 238.0 185.3 238.6 183.8 239.9 C182.3 241.2 182.4 243.0 181.0 244.5 C179.6 246.0 177.9 247.7 175.6 249.0 C173.3 250.3 170.5 252.1 167.4 252.1 C164.3 252.1 160.6 249.3 157.2 249.0 C153.8 248.7 150.4 249.4 147.0 250.1 C143.6 250.8 140.2 253.4 136.8 253.1 C133.4 252.8 129.7 250.0 126.6 248.0 C123.5 246.0 120.4 243.7 118.4 240.9 C116.4 238.2 115.5 234.8 114.6 231.5 C113.7 228.2 114.0 224.2 113.0 221.0 C112.0 217.8 109.8 214.9 108.5 212.0 C107.2 209.1 105.7 206.1 105.4 203.5 C105.1 200.9 105.7 198.8 106.5 196.5 C107.3 194.2 109.2 191.7 110.5 189.5 C111.8 187.3 113.3 186.1 114.4 183.5 C115.5 180.9 117.7 176.9 117.0 174.0 C116.3 171.1 113.5 168.3 110.0 166.0 C106.5 163.7 99.8 162.1 96.0 160.0 C92.2 157.9 88.2 156.0 86.9 153.6 C85.6 151.2 87.5 147.5 88.2 145.5 C88.9 143.5 90.2 142.8 91.0 141.5 C91.8 140.2 92.7 139.2 93.2 137.5 C93.7 135.8 93.5 133.4 94.0 131.5 C94.5 129.6 95.4 127.7 96.5 126.3 Z" fill="#e97b18"/>
<g clip-path="url(#blobclip)" fill="none" stroke="#ebbd1c" stroke-linejoin="round">
<path d="M100.6 122.9 C99.9 123.5 97.6 124.9 96.5 126.3 C95.4 127.7 94.5 129.6 94.0 131.5 C93.5 133.4 93.7 135.8 93.2 137.5 C92.7 139.2 91.8 140.2 91.0 141.5 C90.2 142.8 88.9 143.5 88.2 145.5 C87.5 147.5 85.6 151.2 86.9 153.6 C88.2 156.0 92.2 157.9 96.0 160.0 C99.8 162.1 106.5 163.7 110.0 166.0 C113.5 168.3 116.3 171.1 117.0 174.0 C117.7 176.9 115.5 180.9 114.4 183.5 C113.3 186.1 111.8 187.3 110.5 189.5 C109.2 191.7 107.3 194.2 106.5 196.5 C105.7 198.8 105.1 200.9 105.4 203.5 C105.7 206.1 107.2 209.1 108.5 212.0 C109.8 214.9 112.0 217.8 113.0 221.0 C114.0 224.2 113.7 228.2 114.6 231.5 C115.5 234.8 116.4 238.2 118.4 240.9 C120.4 243.7 123.5 246.0 126.6 248.0 C129.7 250.0 133.4 252.8 136.8 253.1 C140.2 253.4 143.6 250.8 147.0 250.1 C150.4 249.4 153.8 248.7 157.2 249.0 C160.6 249.3 164.3 252.1 167.4 252.1 C170.5 252.1 174.2 249.5 175.6 249.0" stroke-width="21"/>
<path d="M140.0 134.5 C138.9 133.9 136.1 132.1 133.6 131.0 C131.1 129.9 127.8 128.9 125.0 128.0 C122.2 127.1 119.3 126.1 117.1 125.6 C114.9 125.1 113.5 125.1 111.6 124.9 C109.6 124.7 107.2 124.5 105.4 124.2 C103.6 123.9 102.1 122.6 100.6 122.9 C99.1 123.2 97.2 125.7 96.5 126.3" stroke-width="9"/>
<path d="M112 228 C118 240 130 250 150 247 C140 238 128 232 122 222 Z" fill="#ebbd1c" stroke="none"/>
<path d="M148.2 165.0 C148.3 167.6 148.7 176.6 148.6 180.6 C148.5 184.6 148.2 186.6 147.5 188.9 C146.8 191.2 145.5 192.5 144.5 194.4 C143.5 196.3 142.0 198.2 141.7 200.5 C141.4 202.8 142.0 205.6 142.9 208.2 C143.8 210.8 145.3 214.0 147.0 215.8 C148.7 217.6 150.7 218.6 153.1 219.2 C155.5 219.8 159.1 219.7 161.3 219.2 C163.5 218.7 165.6 216.5 166.5 216.0" stroke-width="11"/>
<path d="M169.9 206.0 C169.9 205.1 170.1 202.3 169.9 200.5 C169.7 198.7 169.2 196.4 168.5 195.0 C167.8 193.6 166.3 193.2 165.5 192.2 C164.7 191.2 163.7 190.2 163.7 189.2 C163.7 188.2 164.4 187.4 165.3 186.3 C166.2 185.2 168.0 183.9 169.2 182.6 C170.4 181.3 171.8 180.3 172.7 178.5 C173.6 176.7 174.0 174.1 174.7 171.6 C175.3 169.1 175.8 165.7 176.6 163.4 C177.4 161.1 178.3 159.4 179.6 157.9 C180.9 156.4 182.5 155.4 184.4 154.4 C186.3 153.4 188.7 152.4 191.2 151.7 C193.7 151.0 198.1 150.5 199.5 150.3" stroke-width="26"/>
</g>
<g clip-path="url(#blobclip)" fill="#e97b18">
<path d="M120 200 C118 190 124 178 130 172 L140 176 L136 205 Z"/>
<path d="M178 168 C184 160 192 158 200 158 L206 162 L190 178 Z"/>
</g>
<path d="M96.5 126.3 C97.6 124.9 99.1 123.2 100.6 122.9 C102.1 122.6 103.6 123.9 105.4 124.2 C107.2 124.5 109.6 124.7 111.6 124.9 C113.5 125.1 114.9 125.1 117.1 125.6 C119.3 126.1 122.2 127.1 125.0 128.0 C127.8 128.9 131.1 129.9 133.6 131.0 C136.1 132.1 138.0 131.7 140.0 134.5 C142.0 137.3 144.1 142.9 145.5 148.0 C146.9 153.1 147.7 159.6 148.2 165.0 C148.7 170.4 148.7 176.6 148.6 180.6 C148.5 184.6 148.2 186.6 147.5 188.9 C146.8 191.2 145.5 192.5 144.5 194.4 C143.5 196.3 142.0 198.2 141.7 200.5 C141.4 202.8 142.0 205.6 142.9 208.2 C143.8 210.8 145.3 214.0 147.0 215.8 C148.7 217.6 150.7 218.6 153.1 219.2 C155.5 219.8 159.1 219.7 161.3 219.2 C163.5 218.7 165.1 218.2 166.5 216.0 C167.9 213.8 169.3 208.6 169.9 206.0 C170.5 203.4 170.1 202.3 169.9 200.5 C169.7 198.7 169.2 196.4 168.5 195.0 C167.8 193.6 166.3 193.2 165.5 192.2 C164.7 191.2 163.7 190.2 163.7 189.2 C163.7 188.2 164.4 187.4 165.3 186.3 C166.2 185.2 168.0 183.9 169.2 182.6 C170.4 181.3 171.8 180.3 172.7 178.5 C173.6 176.7 174.0 174.1 174.7 171.6 C175.3 169.1 175.8 165.7 176.6 163.4 C177.4 161.1 178.3 159.4 179.6 157.9 C180.9 156.4 182.5 155.4 184.4 154.4 C186.3 153.4 188.7 152.4 191.2 151.7 C193.7 151.0 197.2 150.3 199.5 150.3 C201.8 150.3 203.4 150.9 205.0 151.7 C206.6 152.5 208.1 153.6 209.1 155.1 C210.1 156.6 211.0 158.5 211.2 160.6 C211.4 162.7 211.2 165.2 210.5 167.5 C209.8 169.8 208.3 172.3 207.0 174.4 C205.7 176.5 204.0 178.1 202.9 179.9 C201.8 181.7 200.8 183.4 200.4 185.4 C200.0 187.4 200.2 189.9 200.4 192.2 C200.6 194.5 201.2 196.8 201.5 199.1 C201.8 201.4 201.8 203.6 202.2 206.1 C202.5 208.6 203.1 211.6 203.6 214.3 C204.1 217.0 205.3 220.3 205.2 222.5 C205.1 224.7 204.4 225.9 203.2 227.6 C202.0 229.3 200.3 231.2 198.1 232.7 C195.9 234.2 192.3 235.6 189.9 236.8 C187.5 238.0 185.3 238.6 183.8 239.9 C182.3 241.2 182.4 243.0 181.0 244.5 C179.6 246.0 177.9 247.7 175.6 249.0 C173.3 250.3 170.5 252.1 167.4 252.1 C164.3 252.1 160.6 249.3 157.2 249.0 C153.8 248.7 150.4 249.4 147.0 250.1 C143.6 250.8 140.2 253.4 136.8 253.1 C133.4 252.8 129.7 250.0 126.6 248.0 C123.5 246.0 120.4 243.7 118.4 240.9 C116.4 238.2 115.5 234.8 114.6 231.5 C113.7 228.2 114.0 224.2 113.0 221.0 C112.0 217.8 109.8 214.9 108.5 212.0 C107.2 209.1 105.7 206.1 105.4 203.5 C105.1 200.9 105.7 198.8 106.5 196.5 C107.3 194.2 109.2 191.7 110.5 189.5 C111.8 187.3 113.3 186.1 114.4 183.5 C115.5 180.9 117.7 176.9 117.0 174.0 C116.3 171.1 113.5 168.3 110.0 166.0 C106.5 163.7 99.8 162.1 96.0 160.0 C92.2 157.9 88.2 156.0 86.9 153.6 C85.6 151.2 87.5 147.5 88.2 145.5 C88.9 143.5 90.2 142.8 91.0 141.5 C91.8 140.2 92.7 139.2 93.2 137.5 C93.7 135.8 93.5 133.4 94.0 131.5 C94.5 129.6 95.4 127.7 96.5 126.3 Z" fill="none" stroke="#111" stroke-width="1.5" stroke-linejoin="round"/>
<path d="M131.0 141.0 C131.8 141.8 134.3 144.3 136.0 146.0 C137.7 147.7 139.5 149.3 141.0 151.0 C142.5 152.7 144.3 155.2 145.0 156.0" fill="none" stroke="#111" stroke-width="3.1500000000000004" stroke-linecap="round"/>
<path d="M131.0 141.0 C131.8 141.8 134.3 144.3 136.0 146.0 C137.7 147.7 139.5 149.3 141.0 151.0 C142.5 152.7 144.3 155.2 145.0 156.0" fill="none" stroke="#e0202a" stroke-width="1.85" stroke-linecap="round"/>
<line x1="67.5" y1="165.5" x2="66.0" y2="182.5" stroke="#5c5c5c" stroke-width="4.7"/>
<line x1="67.5" y1="165.5" x2="66.0" y2="182.5" stroke="#fff" stroke-width="2.8"/>
<line x1="62.0" y1="163.0" x2="60.0" y2="184.5" stroke="#5c5c5c" stroke-width="4.7"/>
<line x1="62.0" y1="163.0" x2="60.0" y2="184.5" stroke="#fff" stroke-width="2.8"/>
<line x1="72.5" y1="169.5" x2="72.0" y2="178.5" stroke="#5c5c5c" stroke-width="4.7"/>
<line x1="72.5" y1="169.5" x2="72.0" y2="178.5" stroke="#fff" stroke-width="2.8"/>
<path d="M78.6 174.8 C77.0 173.4 71.9 168.6 69.0 166.5 C66.1 164.4 63.5 163.0 61.0 162.0 C58.5 161.0 55.9 160.6 54.0 160.3 C52.1 160.0 50.5 160.3 49.8 160.3" fill="none" stroke="#2e2e2e" stroke-width="3.7" stroke-linecap="round" stroke-linejoin="round"/>
<path d="M78.6 174.8 C77.0 173.4 71.9 168.6 69.0 166.5 C66.1 164.4 63.5 163.0 61.0 162.0 C58.5 161.0 55.9 160.6 54.0 160.3 C52.1 160.0 50.5 160.3 49.8 160.3" fill="none" stroke="#8c8c8c" stroke-width="2.3" stroke-linecap="round" stroke-linejoin="round"/>
<path d="M78.6 174.8 C77.0 173.4 71.9 168.6 69.0 166.5 C66.1 164.4 63.5 163.0 61.0 162.0 C58.5 161.0 55.9 160.6 54.0 160.3 C52.1 160.0 50.5 160.3 49.8 160.3" fill="none" stroke="#d8d8d8" stroke-width="0.8" stroke-linecap="round" stroke-linejoin="round"/>
<path d="M78.6 174.8 C77.3 175.8 73.4 179.4 71.0 181.0 C68.6 182.6 66.2 183.8 64.0 184.5 C61.8 185.2 59.6 185.5 58.0 185.5 C56.4 185.5 55.1 184.7 54.5 184.5" fill="none" stroke="#2e2e2e" stroke-width="3.7" stroke-linecap="round" stroke-linejoin="round"/>
<path d="M78.6 174.8 C77.3 175.8 73.4 179.4 71.0 181.0 C68.6 182.6 66.2 183.8 64.0 184.5 C61.8 185.2 59.6 185.5 58.0 185.5 C56.4 185.5 55.1 184.7 54.5 184.5" fill="none" stroke="#8c8c8c" stroke-width="2.3" stroke-linecap="round" stroke-linejoin="round"/>
<path d="M78.6 174.8 C77.3 175.8 73.4 179.4 71.0 181.0 C68.6 182.6 66.2 183.8 64.0 184.5 C61.8 185.2 59.6 185.5 58.0 185.5 C56.4 185.5 55.1 184.7 54.5 184.5" fill="none" stroke="#d8d8d8" stroke-width="0.8" stroke-linecap="round" stroke-linejoin="round"/>
<line x1="82.1" y1="163.6" x2="92.2" y2="180.8" stroke="#5c5c5c" stroke-width="4.7"/>
<line x1="82.1" y1="163.6" x2="92.2" y2="180.8" stroke="#fff" stroke-width="2.8"/>
<line x1="87.1" y1="158.8" x2="98.4" y2="178.9" stroke="#5c5c5c" stroke-width="4.7"/>
<line x1="87.1" y1="158.8" x2="98.4" y2="178.9" stroke="#fff" stroke-width="2.8"/>
<line x1="93.7" y1="158.0" x2="102.9" y2="173.0" stroke="#5c5c5c" stroke-width="4.7"/>
<line x1="93.7" y1="158.0" x2="102.9" y2="173.0" stroke="#fff" stroke-width="2.8"/>
<line x1="111.1" y1="149.8" x2="122.1" y2="169.4" stroke="#5c5c5c" stroke-width="4.7"/>
<line x1="111.1" y1="149.8" x2="122.1" y2="169.4" stroke="#fff" stroke-width="2.8"/>
<line x1="116.8" y1="146.9" x2="127.5" y2="165.6" stroke="#5c5c5c" stroke-width="4.7"/>
<line x1="116.8" y1="146.9" x2="127.5" y2="165.6" stroke="#fff" stroke-width="2.8"/>
<line x1="135.5" y1="141.9" x2="145.5" y2="158.8" stroke="#5c5c5c" stroke-width="4.7"/>
<line x1="135.5" y1="141.9" x2="145.5" y2="158.8" stroke="#fff" stroke-width="2.8"/>
<line x1="140.4" y1="136.9" x2="151.7" y2="157.1" stroke="#5c5c5c" stroke-width="4.7"/>
<line x1="140.4" y1="136.9" x2="151.7" y2="157.1" stroke="#fff" stroke-width="2.8"/>
<line x1="146.9" y1="136.0" x2="156.2" y2="151.3" stroke="#5c5c5c" stroke-width="4.7"/>
<line x1="146.9" y1="136.0" x2="156.2" y2="151.3" stroke="#fff" stroke-width="2.8"/>
<line x1="164.4" y1="128.0" x2="175.4" y2="147.5" stroke="#5c5c5c" stroke-width="4.7"/>
<line x1="164.4" y1="128.0" x2="175.4" y2="147.5" stroke="#fff" stroke-width="2.8"/>
<line x1="170.1" y1="125.0" x2="180.8" y2="143.8" stroke="#5c5c5c" stroke-width="4.7"/>
<line x1="170.1" y1="125.0" x2="180.8" y2="143.8" stroke="#fff" stroke-width="2.8"/>
<line x1="188.8" y1="120.1" x2="198.7" y2="136.8" stroke="#5c5c5c" stroke-width="4.7"/>
<line x1="188.8" y1="120.1" x2="198.7" y2="136.8" stroke="#fff" stroke-width="2.8"/>
<line x1="193.7" y1="115.0" x2="205.0" y2="135.2" stroke="#5c5c5c" stroke-width="4.7"/>
<line x1="193.7" y1="115.0" x2="205.0" y2="135.2" stroke="#fff" stroke-width="2.8"/>
<line x1="200.2" y1="114.0" x2="209.6" y2="129.6" stroke="#5c5c5c" stroke-width="4.7"/>
<line x1="200.2" y1="114.0" x2="209.6" y2="129.6" stroke="#fff" stroke-width="2.8"/>
<path d="M78.6 174.8 L80.3 176.7 L81.6 177.7 L82.8 178.5 L83.9 179.2 L85.0 179.8 L86.1 180.4 L87.2 180.8 L88.2 181.2 L89.2 181.5 L90.1 181.7 L91.1 181.9 L92.0 182.0 L92.9 182.0 L93.7 182.0 L94.6 182.0 L95.4 181.8 L96.2 181.6 L96.9 181.3 L97.6 181.0 L98.3 180.6 L99.0 180.1 L99.7 179.6 L100.3 179.0 L100.9 178.4 L101.5 177.7 L102.0 176.9 L102.5 176.0 L103.0 175.1 L103.5 174.2 L103.9 173.1 L104.3 172.0 L104.7 170.8 L105.0 169.5 L105.3 168.1 L105.5 166.4 L105.5 164.2 L105.2 161.5 L105.4 159.8 L105.6 158.3 L106.0 157.0 L106.3 155.8 L106.7 154.7 L107.2 153.6 L107.6 152.6 L108.1 151.7 L108.6 150.9 L109.2 150.1 L109.7 149.4 L110.3 148.7 L111.0 148.1 L111.6 147.6 L112.3 147.1 L113.0 146.7 L113.7 146.3 L114.5 146.1 L115.2 145.8 L116.0 145.7 L116.9 145.6 L117.7 145.6 L118.6 145.6 L119.5 145.7 L120.4 145.9 L121.4 146.1 L122.4 146.4 L123.4 146.8 L124.4 147.2 L125.5 147.7 L126.6 148.3 L127.8 149.0 L129.0 149.8 L130.2 150.8 L131.7 152.3 L133.5 154.5 L134.8 155.6 L136.0 156.4 L137.2 157.2 L138.3 157.8 L139.4 158.3 L140.5 158.8 L141.5 159.1 L142.5 159.5 L143.4 159.7 L144.4 159.9 L145.3 160.0 L146.2 160.1 L147.1 160.1 L147.9 160.0 L148.7 159.9 L149.5 159.7 L150.3 159.4 L151.0 159.1 L151.7 158.7 L152.4 158.3 L153.0 157.7 L153.7 157.2 L154.3 156.5 L154.8 155.8 L155.4 155.1 L155.9 154.2 L156.4 153.3 L156.9 152.4 L157.3 151.3 L157.7 150.2 L158.1 149.0 L158.4 147.8 L158.7 146.4 L158.9 144.8 L159.0 142.7 L158.7 139.8 L158.8 138.1 L159.1 136.6 L159.4 135.3 L159.7 134.0 L160.1 132.9 L160.6 131.8 L161.0 130.8 L161.5 129.9 L162.0 129.0 L162.6 128.2 L163.1 127.5 L163.7 126.8 L164.3 126.2 L165.0 125.7 L165.6 125.2 L166.3 124.8 L167.0 124.4 L167.8 124.1 L168.6 123.9 L169.4 123.7 L170.2 123.6 L171.0 123.6 L171.9 123.6 L172.8 123.7 L173.7 123.9 L174.7 124.1 L175.7 124.4 L176.7 124.7 L177.7 125.1 L178.8 125.6 L179.9 126.2 L181.0 126.9 L182.2 127.7 L183.5 128.6 L184.9 130.0 L186.7 132.3 L188.1 133.5 L189.3 134.4 L190.5 135.1 L191.6 135.7 L192.7 136.3 L193.8 136.7 L194.8 137.1 L195.8 137.5 L196.8 137.7 L197.7 137.9 L198.6 138.0 L199.5 138.1 L200.4 138.1 L201.2 138.1 L202.0 137.9 L202.8 137.8 L203.6 137.5 L204.3 137.2 L205.0 136.8 L205.7 136.4 L206.4 135.9 L207.0 135.3 L207.6 134.7 L208.2 134.0 L208.8 133.2 L209.3 132.4 L209.8 131.5 L210.3 130.6 L210.7 129.5 L211.1 128.4" fill="none" stroke="#2e2e2e" stroke-width="3.7" stroke-linecap="round" stroke-linejoin="round"/>
<path d="M78.6 174.8 L80.3 176.7 L81.6 177.7 L82.8 178.5 L83.9 179.2 L85.0 179.8 L86.1 180.4 L87.2 180.8 L88.2 181.2 L89.2 181.5 L90.1 181.7 L91.1 181.9 L92.0 182.0 L92.9 182.0 L93.7 182.0 L94.6 182.0 L95.4 181.8 L96.2 181.6 L96.9 181.3 L97.6 181.0 L98.3 180.6 L99.0 180.1 L99.7 179.6 L100.3 179.0 L100.9 178.4 L101.5 177.7 L102.0 176.9 L102.5 176.0 L103.0 175.1 L103.5 174.2 L103.9 173.1 L104.3 172.0 L104.7 170.8 L105.0 169.5 L105.3 168.1 L105.5 166.4 L105.5 164.2 L105.2 161.5 L105.4 159.8 L105.6 158.3 L106.0 157.0 L106.3 155.8 L106.7 154.7 L107.2 153.6 L107.6 152.6 L108.1 151.7 L108.6 150.9 L109.2 150.1 L109.7 149.4 L110.3 148.7 L111.0 148.1 L111.6 147.6 L112.3 147.1 L113.0 146.7 L113.7 146.3 L114.5 146.1 L115.2 145.8 L116.0 145.7 L116.9 145.6 L117.7 145.6 L118.6 145.6 L119.5 145.7 L120.4 145.9 L121.4 146.1 L122.4 146.4 L123.4 146.8 L124.4 147.2 L125.5 147.7 L126.6 148.3 L127.8 149.0 L129.0 149.8 L130.2 150.8 L131.7 152.3 L133.5 154.5 L134.8 155.6 L136.0 156.4 L137.2 157.2 L138.3 157.8 L139.4 158.3 L140.5 158.8 L141.5 159.1 L142.5 159.5 L143.4 159.7 L144.4 159.9 L145.3 160.0 L146.2 160.1 L147.1 160.1 L147.9 160.0 L148.7 159.9 L149.5 159.7 L150.3 159.4 L151.0 159.1 L151.7 158.7 L152.4 158.3 L153.0 157.7 L153.7 157.2 L154.3 156.5 L154.8 155.8 L155.4 155.1 L155.9 154.2 L156.4 153.3 L156.9 152.4 L157.3 151.3 L157.7 150.2 L158.1 149.0 L158.4 147.8 L158.7 146.4 L158.9 144.8 L159.0 142.7 L158.7 139.8 L158.8 138.1 L159.1 136.6 L159.4 135.3 L159.7 134.0 L160.1 132.9 L160.6 131.8 L161.0 130.8 L161.5 129.9 L162.0 129.0 L162.6 128.2 L163.1 127.5 L163.7 126.8 L164.3 126.2 L165.0 125.7 L165.6 125.2 L166.3 124.8 L167.0 124.4 L167.8 124.1 L168.6 123.9 L169.4 123.7 L170.2 123.6 L171.0 123.6 L171.9 123.6 L172.8 123.7 L173.7 123.9 L174.7 124.1 L175.7 124.4 L176.7 124.7 L177.7 125.1 L178.8 125.6 L179.9 126.2 L181.0 126.9 L182.2 127.7 L183.5 128.6 L184.9 130.0 L186.7 132.3 L188.1 133.5 L189.3 134.4 L190.5 135.1 L191.6 135.7 L192.7 136.3 L193.8 136.7 L194.8 137.1 L195.8 137.5 L196.8 137.7 L197.7 137.9 L198.6 138.0 L199.5 138.1 L200.4 138.1 L201.2 138.1 L202.0 137.9 L202.8 137.8 L203.6 137.5 L204.3 137.2 L205.0 136.8 L205.7 136.4 L206.4 135.9 L207.0 135.3 L207.6 134.7 L208.2 134.0 L208.8 133.2 L209.3 132.4 L209.8 131.5 L210.3 130.6 L210.7 129.5 L211.1 128.4" fill="none" stroke="#8c8c8c" stroke-width="2.3" stroke-linecap="round" stroke-linejoin="round"/>
<path d="M78.6 174.8 L80.3 176.7 L81.6 177.7 L82.8 178.5 L83.9 179.2 L85.0 179.8 L86.1 180.4 L87.2 180.8 L88.2 181.2 L89.2 181.5 L90.1 181.7 L91.1 181.9 L92.0 182.0 L92.9 182.0 L93.7 182.0 L94.6 182.0 L95.4 181.8 L96.2 181.6 L96.9 181.3 L97.6 181.0 L98.3 180.6 L99.0 180.1 L99.7 179.6 L100.3 179.0 L100.9 178.4 L101.5 177.7 L102.0 176.9 L102.5 176.0 L103.0 175.1 L103.5 174.2 L103.9 173.1 L104.3 172.0 L104.7 170.8 L105.0 169.5 L105.3 168.1 L105.5 166.4 L105.5 164.2 L105.2 161.5 L105.4 159.8 L105.6 158.3 L106.0 157.0 L106.3 155.8 L106.7 154.7 L107.2 153.6 L107.6 152.6 L108.1 151.7 L108.6 150.9 L109.2 150.1 L109.7 149.4 L110.3 148.7 L111.0 148.1 L111.6 147.6 L112.3 147.1 L113.0 146.7 L113.7 146.3 L114.5 146.1 L115.2 145.8 L116.0 145.7 L116.9 145.6 L117.7 145.6 L118.6 145.6 L119.5 145.7 L120.4 145.9 L121.4 146.1 L122.4 146.4 L123.4 146.8 L124.4 147.2 L125.5 147.7 L126.6 148.3 L127.8 149.0 L129.0 149.8 L130.2 150.8 L131.7 152.3 L133.5 154.5 L134.8 155.6 L136.0 156.4 L137.2 157.2 L138.3 157.8 L139.4 158.3 L140.5 158.8 L141.5 159.1 L142.5 159.5 L143.4 159.7 L144.4 159.9 L145.3 160.0 L146.2 160.1 L147.1 160.1 L147.9 160.0 L148.7 159.9 L149.5 159.7 L150.3 159.4 L151.0 159.1 L151.7 158.7 L152.4 158.3 L153.0 157.7 L153.7 157.2 L154.3 156.5 L154.8 155.8 L155.4 155.1 L155.9 154.2 L156.4 153.3 L156.9 152.4 L157.3 151.3 L157.7 150.2 L158.1 149.0 L158.4 147.8 L158.7 146.4 L158.9 144.8 L159.0 142.7 L158.7 139.8 L158.8 138.1 L159.1 136.6 L159.4 135.3 L159.7 134.0 L160.1 132.9 L160.6 131.8 L161.0 130.8 L161.5 129.9 L162.0 129.0 L162.6 128.2 L163.1 127.5 L163.7 126.8 L164.3 126.2 L165.0 125.7 L165.6 125.2 L166.3 124.8 L167.0 124.4 L167.8 124.1 L168.6 123.9 L169.4 123.7 L170.2 123.6 L171.0 123.6 L171.9 123.6 L172.8 123.7 L173.7 123.9 L174.7 124.1 L175.7 124.4 L176.7 124.7 L177.7 125.1 L178.8 125.6 L179.9 126.2 L181.0 126.9 L182.2 127.7 L183.5 128.6 L184.9 130.0 L186.7 132.3 L188.1 133.5 L189.3 134.4 L190.5 135.1 L191.6 135.7 L192.7 136.3 L193.8 136.7 L194.8 137.1 L195.8 137.5 L196.8 137.7 L197.7 137.9 L198.6 138.0 L199.5 138.1 L200.4 138.1 L201.2 138.1 L202.0 137.9 L202.8 137.8 L203.6 137.5 L204.3 137.2 L205.0 136.8 L205.7 136.4 L206.4 135.9 L207.0 135.3 L207.6 134.7 L208.2 134.0 L208.8 133.2 L209.3 132.4 L209.8 131.5 L210.3 130.6 L210.7 129.5 L211.1 128.4" fill="none" stroke="#d8d8d8" stroke-width="0.8" stroke-linecap="round" stroke-linejoin="round"/>
<path d="M78.6 174.8 L78.5 172.3 L78.7 170.7 L78.9 169.2 L79.3 167.9 L79.6 166.7 L80.0 165.6 L80.5 164.5 L80.9 163.5 L81.4 162.6 L81.9 161.8 L82.5 161.0 L83.1 160.3 L83.7 159.6 L84.3 159.0 L84.9 158.5 L85.6 158.0 L86.3 157.6 L87.0 157.3 L87.8 157.0 L88.6 156.8 L89.4 156.7 L90.2 156.6 L91.1 156.5 L91.9 156.6 L92.8 156.7 L93.8 156.9 L94.7 157.1 L95.7 157.4 L96.8 157.8 L97.8 158.2 L98.9 158.7 L100.0 159.3 L101.1 160.0 L102.3 160.8 L103.6 161.8 L105.1 163.5 L106.9 165.6 L108.2 166.6 L109.4 167.5 L110.6 168.2 L111.7 168.8 L112.8 169.3 L113.8 169.8 L114.8 170.2 L115.8 170.5 L116.8 170.7 L117.7 170.9 L118.6 171.0 L119.5 171.1 L120.4 171.1 L121.2 171.0 L122.0 170.8 L122.8 170.6 L123.6 170.4 L124.3 170.1 L125.0 169.7 L125.7 169.2 L126.3 168.7 L127.0 168.1 L127.6 167.5 L128.1 166.7 L128.7 166.0 L129.2 165.1 L129.7 164.2 L130.2 163.3 L130.6 162.2 L131.0 161.1 L131.4 159.9 L131.7 158.6 L132.0 157.2 L132.2 155.6 L132.2 153.5 L131.9 150.7 L132.1 148.9 L132.4 147.5 L132.7 146.2 L133.0 144.9 L133.4 143.8 L133.9 142.7 L134.3 141.7 L134.8 140.8 L135.3 140.0 L135.9 139.2 L136.4 138.4 L137.0 137.8 L137.6 137.2 L138.3 136.6 L139.0 136.1 L139.7 135.7 L140.4 135.4 L141.1 135.1 L141.9 134.9 L142.7 134.7 L143.5 134.6 L144.4 134.6 L145.3 134.6 L146.2 134.7 L147.1 134.9 L148.1 135.1 L149.0 135.4 L150.0 135.7 L151.1 136.2 L152.2 136.7 L153.3 137.2 L154.4 137.9 L155.6 138.7 L156.9 139.7 L158.3 141.1 L160.1 143.4 L161.5 144.5 L162.7 145.4 L163.8 146.1 L165.0 146.8 L166.0 147.3 L167.1 147.7 L168.1 148.1 L169.1 148.5 L170.1 148.7 L171.0 148.9 L172.0 149.0 L172.9 149.1 L173.7 149.1 L174.6 149.0 L175.4 148.9 L176.2 148.7 L176.9 148.5 L177.7 148.1 L178.4 147.8 L179.0 147.3 L179.7 146.8 L180.3 146.2 L180.9 145.6 L181.5 144.9 L182.1 144.1 L182.6 143.3 L183.1 142.4 L183.6 141.5 L184.0 140.4 L184.4 139.3 L184.8 138.2 L185.2 136.9 L185.4 135.5 L185.7 133.9 L185.7 132.0 L185.4 129.0 L185.5 127.2 L185.8 125.7 L186.1 124.4 L186.4 123.2 L186.8 122.0 L187.3 120.9 L187.7 119.9 L188.2 119.0 L188.7 118.1 L189.2 117.3 L189.8 116.6 L190.4 115.9 L191.0 115.3 L191.6 114.7 L192.3 114.2 L193.0 113.8 L193.7 113.5 L194.5 113.2 L195.2 112.9 L196.0 112.8 L196.9 112.7 L197.7 112.6 L198.6 112.6 L199.5 112.7 L200.4 112.9 L201.4 113.1 L202.3 113.4 L203.3 113.7 L204.4 114.1 L205.4 114.6" fill="none" stroke="#2e2e2e" stroke-width="3.7" stroke-linecap="round" stroke-linejoin="round"/>
<path d="M78.6 174.8 L78.5 172.3 L78.7 170.7 L78.9 169.2 L79.3 167.9 L79.6 166.7 L80.0 165.6 L80.5 164.5 L80.9 163.5 L81.4 162.6 L81.9 161.8 L82.5 161.0 L83.1 160.3 L83.7 159.6 L84.3 159.0 L84.9 158.5 L85.6 158.0 L86.3 157.6 L87.0 157.3 L87.8 157.0 L88.6 156.8 L89.4 156.7 L90.2 156.6 L91.1 156.5 L91.9 156.6 L92.8 156.7 L93.8 156.9 L94.7 157.1 L95.7 157.4 L96.8 157.8 L97.8 158.2 L98.9 158.7 L100.0 159.3 L101.1 160.0 L102.3 160.8 L103.6 161.8 L105.1 163.5 L106.9 165.6 L108.2 166.6 L109.4 167.5 L110.6 168.2 L111.7 168.8 L112.8 169.3 L113.8 169.8 L114.8 170.2 L115.8 170.5 L116.8 170.7 L117.7 170.9 L118.6 171.0 L119.5 171.1 L120.4 171.1 L121.2 171.0 L122.0 170.8 L122.8 170.6 L123.6 170.4 L124.3 170.1 L125.0 169.7 L125.7 169.2 L126.3 168.7 L127.0 168.1 L127.6 167.5 L128.1 166.7 L128.7 166.0 L129.2 165.1 L129.7 164.2 L130.2 163.3 L130.6 162.2 L131.0 161.1 L131.4 159.9 L131.7 158.6 L132.0 157.2 L132.2 155.6 L132.2 153.5 L131.9 150.7 L132.1 148.9 L132.4 147.5 L132.7 146.2 L133.0 144.9 L133.4 143.8 L133.9 142.7 L134.3 141.7 L134.8 140.8 L135.3 140.0 L135.9 139.2 L136.4 138.4 L137.0 137.8 L137.6 137.2 L138.3 136.6 L139.0 136.1 L139.7 135.7 L140.4 135.4 L141.1 135.1 L141.9 134.9 L142.7 134.7 L143.5 134.6 L144.4 134.6 L145.3 134.6 L146.2 134.7 L147.1 134.9 L148.1 135.1 L149.0 135.4 L150.0 135.7 L151.1 136.2 L152.2 136.7 L153.3 137.2 L154.4 137.9 L155.6 138.7 L156.9 139.7 L158.3 141.1 L160.1 143.4 L161.5 144.5 L162.7 145.4 L163.8 146.1 L165.0 146.8 L166.0 147.3 L167.1 147.7 L168.1 148.1 L169.1 148.5 L170.1 148.7 L171.0 148.9 L172.0 149.0 L172.9 149.1 L173.7 149.1 L174.6 149.0 L175.4 148.9 L176.2 148.7 L176.9 148.5 L177.7 148.1 L178.4 147.8 L179.0 147.3 L179.7 146.8 L180.3 146.2 L180.9 145.6 L181.5 144.9 L182.1 144.1 L182.6 143.3 L183.1 142.4 L183.6 141.5 L184.0 140.4 L184.4 139.3 L184.8 138.2 L185.2 136.9 L185.4 135.5 L185.7 133.9 L185.7 132.0 L185.4 129.0 L185.5 127.2 L185.8 125.7 L186.1 124.4 L186.4 123.2 L186.8 122.0 L187.3 120.9 L187.7 119.9 L188.2 119.0 L188.7 118.1 L189.2 117.3 L189.8 116.6 L190.4 115.9 L191.0 115.3 L191.6 114.7 L192.3 114.2 L193.0 113.8 L193.7 113.5 L194.5 113.2 L195.2 112.9 L196.0 112.8 L196.9 112.7 L197.7 112.6 L198.6 112.6 L199.5 112.7 L200.4 112.9 L201.4 113.1 L202.3 113.4 L203.3 113.7 L204.4 114.1 L205.4 114.6" fill="none" stroke="#8c8c8c" stroke-width="2.3" stroke-linecap="round" stroke-linejoin="round"/>
<path d="M78.6 174.8 L78.5 172.3 L78.7 170.7 L78.9 169.2 L79.3 167.9 L79.6 166.7 L80.0 165.6 L80.5 164.5 L80.9 163.5 L81.4 162.6 L81.9 161.8 L82.5 161.0 L83.1 160.3 L83.7 159.6 L84.3 159.0 L84.9 158.5 L85.6 158.0 L86.3 157.6 L87.0 157.3 L87.8 157.0 L88.6 156.8 L89.4 156.7 L90.2 156.6 L91.1 156.5 L91.9 156.6 L92.8 156.7 L93.8 156.9 L94.7 157.1 L95.7 157.4 L96.8 157.8 L97.8 158.2 L98.9 158.7 L100.0 159.3 L101.1 160.0 L102.3 160.8 L103.6 161.8 L105.1 163.5 L106.9 165.6 L108.2 166.6 L109.4 167.5 L110.6 168.2 L111.7 168.8 L112.8 169.3 L113.8 169.8 L114.8 170.2 L115.8 170.5 L116.8 170.7 L117.7 170.9 L118.6 171.0 L119.5 171.1 L120.4 171.1 L121.2 171.0 L122.0 170.8 L122.8 170.6 L123.6 170.4 L124.3 170.1 L125.0 169.7 L125.7 169.2 L126.3 168.7 L127.0 168.1 L127.6 167.5 L128.1 166.7 L128.7 166.0 L129.2 165.1 L129.7 164.2 L130.2 163.3 L130.6 162.2 L131.0 161.1 L131.4 159.9 L131.7 158.6 L132.0 157.2 L132.2 155.6 L132.2 153.5 L131.9 150.7 L132.1 148.9 L132.4 147.5 L132.7 146.2 L133.0 144.9 L133.4 143.8 L133.9 142.7 L134.3 141.7 L134.8 140.8 L135.3 140.0 L135.9 139.2 L136.4 138.4 L137.0 137.8 L137.6 137.2 L138.3 136.6 L139.0 136.1 L139.7 135.7 L140.4 135.4 L141.1 135.1 L141.9 134.9 L142.7 134.7 L143.5 134.6 L144.4 134.6 L145.3 134.6 L146.2 134.7 L147.1 134.9 L148.1 135.1 L149.0 135.4 L150.0 135.7 L151.1 136.2 L152.2 136.7 L153.3 137.2 L154.4 137.9 L155.6 138.7 L156.9 139.7 L158.3 141.1 L160.1 143.4 L161.5 144.5 L162.7 145.4 L163.8 146.1 L165.0 146.8 L166.0 147.3 L167.1 147.7 L168.1 148.1 L169.1 148.5 L170.1 148.7 L171.0 148.9 L172.0 149.0 L172.9 149.1 L173.7 149.1 L174.6 149.0 L175.4 148.9 L176.2 148.7 L176.9 148.5 L177.7 148.1 L178.4 147.8 L179.0 147.3 L179.7 146.8 L180.3 146.2 L180.9 145.6 L181.5 144.9 L182.1 144.1 L182.6 143.3 L183.1 142.4 L183.6 141.5 L184.0 140.4 L184.4 139.3 L184.8 138.2 L185.2 136.9 L185.4 135.5 L185.7 133.9 L185.7 132.0 L185.4 129.0 L185.5 127.2 L185.8 125.7 L186.1 124.4 L186.4 123.2 L186.8 122.0 L187.3 120.9 L187.7 119.9 L188.2 119.0 L188.7 118.1 L189.2 117.3 L189.8 116.6 L190.4 115.9 L191.0 115.3 L191.6 114.7 L192.3 114.2 L193.0 113.8 L193.7 113.5 L194.5 113.2 L195.2 112.9 L196.0 112.8 L196.9 112.7 L197.7 112.6 L198.6 112.6 L199.5 112.7 L200.4 112.9 L201.4 113.1 L202.3 113.4 L203.3 113.7 L204.4 114.1 L205.4 114.6" fill="none" stroke="#d8d8d8" stroke-width="0.8" stroke-linecap="round" stroke-linejoin="round"/>
<g transform="translate(130.6 137.6) rotate(-110.6)"><path d="M0 -5.0 H17.1 A2.2 5.0 0 0 1 17.1 5.0 H0 Z" fill="#e3191f" stroke="#111" stroke-width="1.1"/><ellipse cx="0" cy="0" rx="2.2" ry="5.0" fill="#e3191f" stroke="#111" stroke-width="1.1"/></g>
<path d="M128.2 138.5 C128.1 139.1 127.2 141.1 127.8 141.8 C128.3 142.5 130.5 143.2 131.5 142.8 C132.5 142.4 133.2 140.1 133.6 139.6" fill="none" stroke="#111" stroke-width="3.1" stroke-linecap="round"/>
<path d="M128.2 138.5 C128.1 139.1 127.2 141.1 127.8 141.8 C128.3 142.5 130.5 143.2 131.5 142.8 C132.5 142.4 133.2 140.1 133.6 139.6" fill="none" stroke="#e0202a" stroke-width="1.8" stroke-linecap="round"/>
<path d="M167.5 91.5 C166.1 91.8 162.2 92.1 159.3 93.2 C156.4 94.3 152.2 96.1 150.0 97.9 C147.8 99.7 146.9 101.2 146.0 104.0 C145.1 106.8 145.8 111.4 144.6 114.6 C143.4 117.8 141.4 120.4 139.1 122.9 C136.8 125.4 133.9 127.9 130.9 129.7 C127.9 131.5 124.4 133.1 121.2 133.9 C118.0 134.7 114.1 135.3 111.6 134.6 C109.1 133.9 107.4 131.9 106.1 129.7 C104.8 127.5 104.0 123.8 104.0 121.5 C104.0 119.2 104.8 117.3 106.1 116.0 C107.4 114.7 109.5 114.0 111.6 113.9 C113.7 113.8 116.7 114.4 118.5 115.3 C120.3 116.2 121.8 118.8 122.5 119.5" fill="none" stroke="#111" stroke-width="3.1500000000000004" stroke-linecap="round"/>
<path d="M167.5 91.5 C166.1 91.8 162.2 92.1 159.3 93.2 C156.4 94.3 152.2 96.1 150.0 97.9 C147.8 99.7 146.9 101.2 146.0 104.0 C145.1 106.8 145.8 111.4 144.6 114.6 C143.4 117.8 141.4 120.4 139.1 122.9 C136.8 125.4 133.9 127.9 130.9 129.7 C127.9 131.5 124.4 133.1 121.2 133.9 C118.0 134.7 114.1 135.3 111.6 134.6 C109.1 133.9 107.4 131.9 106.1 129.7 C104.8 127.5 104.0 123.8 104.0 121.5 C104.0 119.2 104.8 117.3 106.1 116.0 C107.4 114.7 109.5 114.0 111.6 113.9 C113.7 113.8 116.7 114.4 118.5 115.3 C120.3 116.2 121.8 118.8 122.5 119.5" fill="none" stroke="#e0202a" stroke-width="1.85" stroke-linecap="round"/>
<path d="M139.5 173.0 C139.7 174.2 139.9 177.8 140.4 180.2 C140.9 182.6 141.6 185.1 142.4 187.5 C143.2 189.9 143.9 192.1 145.2 194.4 C146.5 196.7 148.4 199.1 150.0 201.2 C151.6 203.3 153.8 206.0 154.5 207.0" fill="none" stroke="#111" stroke-width="3.1500000000000004" stroke-linecap="round"/>
<path d="M139.5 173.0 C139.7 174.2 139.9 177.8 140.4 180.2 C140.9 182.6 141.6 185.1 142.4 187.5 C143.2 189.9 143.9 192.1 145.2 194.4 C146.5 196.7 148.4 199.1 150.0 201.2 C151.6 203.3 153.8 206.0 154.5 207.0" fill="none" stroke="#e0202a" stroke-width="1.85" stroke-linecap="round"/>
<g transform="translate(139.8 170.8) rotate(-60.3)"><path d="M0 -4.8 H11.3 A2.2 4.8 0 0 1 11.3 4.8 H0 Z" fill="#e3191f" stroke="#111" stroke-width="1.1"/><ellipse cx="0" cy="0" rx="2.2" ry="4.8" fill="#e3191f" stroke="#111" stroke-width="1.1"/></g>
<path d="M137.0 170.4 C136.9 171.0 136.0 173.4 136.6 174.2 C137.2 175.0 139.4 175.7 140.4 175.4 C141.4 175.1 142.2 172.9 142.6 172.4" fill="none" stroke="#111" stroke-width="3.1" stroke-linecap="round"/>
<path d="M137.0 170.4 C136.9 171.0 136.0 173.4 136.6 174.2 C137.2 175.0 139.4 175.7 140.4 175.4 C141.4 175.1 142.2 172.9 142.6 172.4" fill="none" stroke="#e0202a" stroke-width="1.8" stroke-linecap="round"/>
<linearGradient id="rg2" gradientUnits="userSpaceOnUse" x1="30.8" y1="187.0" x2="246.0" y2="107.5"><stop offset="0" stop-color="#fdf3ee"/><stop offset="0.043" stop-color="#f6b08e"/><stop offset="0.096" stop-color="#df3c1b"/><stop offset="0.895" stop-color="#df3c1b"/><stop offset="0.953" stop-color="#f6b08e"/><stop offset="1" stop-color="#fdf3ee"/></linearGradient>
<linearGradient id="rg2k" gradientUnits="userSpaceOnUse" x1="30.8" y1="187.0" x2="246.0" y2="107.5"><stop offset="0" stop-color="#000" stop-opacity="0"/><stop offset="0.096" stop-color="#000" stop-opacity="0.95"/><stop offset="0.895" stop-color="#000" stop-opacity="0.95"/><stop offset="1" stop-color="#000" stop-opacity="0"/></linearGradient>
<line x1="30.8" y1="187.0" x2="246.0" y2="107.5" stroke="url(#rg2k)" stroke-width="5.800000000000001"/>
<line x1="30.8" y1="187.0" x2="246.0" y2="107.5" stroke="url(#rg2)" stroke-width="4.2"/>
<path d="M206.0 86.0 L172.5 212.5" stroke="#111" stroke-width="5.2" stroke-dasharray="9.5 3.2" stroke-dashoffset="-1"/>
<path d="M206.0 86.0 L172.5 212.5" stroke="#e0301d" stroke-width="3.4" stroke-dasharray="9.5 3.2" stroke-dashoffset="-1"/>
<g transform="translate(167.5 216.0) rotate(-145.8)"><path d="M0 -4.3 H15.1 A1.9 4.3 0 0 1 15.1 4.3 H0 Z" fill="#e3191f" stroke="#111" stroke-width="1.1"/><ellipse cx="0" cy="0" rx="1.9" ry="4.3" fill="#e3191f" stroke="#111" stroke-width="1.1"/></g>
<path d="M167.5 216.5 C168.8 218.5 172.9 225.0 175.6 228.6 C178.3 232.2 181.1 235.6 183.8 237.8 C186.5 240.0 188.2 241.1 192.0 241.9 C195.8 242.8 202.6 242.1 206.3 242.9 C210.0 243.8 212.0 244.9 214.4 247.0 C216.8 249.1 218.9 253.0 220.6 255.2 C222.3 257.4 223.3 259.3 224.7 260.3 C226.1 261.3 228.1 261.1 228.8 261.3" fill="none" stroke="#0a2412" stroke-width="3.3" stroke-linecap="round"/>
<path d="M167.5 216.5 C168.8 218.5 172.9 225.0 175.6 228.6 C178.3 232.2 181.1 235.6 183.8 237.8 C186.5 240.0 188.2 241.1 192.0 241.9 C195.8 242.8 202.6 242.1 206.3 242.9 C210.0 243.8 212.0 244.9 214.4 247.0 C216.8 249.1 218.9 253.0 220.6 255.2 C222.3 257.4 223.3 259.3 224.7 260.3 C226.1 261.3 228.1 261.1 228.8 261.3" fill="none" stroke="#1d643a" stroke-width="1.9" stroke-linecap="round"/>
<path d="M155.3 66.4 C157.0 66.9 162.2 68.4 165.2 69.3 C168.2 70.2 170.5 71.3 173.4 71.6 C176.3 71.9 179.8 71.7 182.7 71.0 C185.6 70.3 188.0 68.9 190.9 67.5 C193.8 66.1 196.9 63.9 200.2 62.8 C203.5 61.7 207.4 61.3 210.7 61.1 C214.0 60.9 217.8 61.0 220.0 61.7 C222.2 62.4 223.2 63.7 223.6 65.2 C224.0 66.8 223.4 69.0 222.4 71.0 C221.4 73.0 220.0 75.2 217.7 76.9 C215.4 78.7 209.9 80.7 208.4 81.5" fill="none" stroke="#0a2412" stroke-width="3.3" stroke-linecap="round"/>
<path d="M155.3 66.4 C157.0 66.9 162.2 68.4 165.2 69.3 C168.2 70.2 170.5 71.3 173.4 71.6 C176.3 71.9 179.8 71.7 182.7 71.0 C185.6 70.3 188.0 68.9 190.9 67.5 C193.8 66.1 196.9 63.9 200.2 62.8 C203.5 61.7 207.4 61.3 210.7 61.1 C214.0 60.9 217.8 61.0 220.0 61.7 C222.2 62.4 223.2 63.7 223.6 65.2 C224.0 66.8 223.4 69.0 222.4 71.0 C221.4 73.0 220.0 75.2 217.7 76.9 C215.4 78.7 209.9 80.7 208.4 81.5" fill="none" stroke="#1d643a" stroke-width="1.9" stroke-linecap="round"/>
<g transform="translate(169.3 91.3) rotate(-12.5)"><path d="M0 -5.1 H38.8 A2.3 5.1 0 0 1 38.8 5.1 H0 Z" fill="#e3191f" stroke="#111" stroke-width="1.1"/><ellipse cx="0" cy="0" rx="2.3" ry="5.1" fill="#e3191f" stroke="#111" stroke-width="1.1"/></g>
<text x="69.3" y="67.6" font-family="Liberation Sans, sans-serif" font-size="30.5">S<tspan font-size="18.5" dx="0.5">nl</tspan></text>
<text x="228.6" y="158.6" font-family="Liberation Sans, sans-serif" font-size="30.5">S<tspan font-size="18.5" dx="0.3">l</tspan></text>
<text x="-0.6" y="29.9" font-family="Liberation Sans, sans-serif" font-size="31.2">A</text>
<text x="251.2" y="29.9" font-family="Liberation Sans, sans-serif" font-size="31.2">B</text>
<text x="-1.3" y="279.6" font-family="Liberation Sans, sans-serif" font-size="31.2">C</text>
<rect x="333.15" y="234.22" width="18.30" height="4.28" fill="#c2c2c2" stroke="#000" stroke-width="2"/>
<rect x="351.45" y="236.36" width="18.30" height="2.14" fill="#25387e" stroke="#000" stroke-width="2"/>
<rect x="369.75" y="229.72" width="18.30" height="8.78" fill="#f4bd20" stroke="#000" stroke-width="2"/>
<rect x="403.01" y="200.80" width="18.30" height="37.70" fill="#c2c2c2" stroke="#000" stroke-width="2"/>
<rect x="421.31" y="217.94" width="18.30" height="20.56" fill="#25387e" stroke="#000" stroke-width="2"/>
<rect x="439.61" y="150.68" width="18.30" height="87.82" fill="#f4bd20" stroke="#000" stroke-width="2"/>
<rect x="472.87" y="153.25" width="18.30" height="85.25" fill="#c2c2c2" stroke="#000" stroke-width="2"/>
<rect x="491.17" y="179.38" width="18.30" height="59.12" fill="#25387e" stroke="#000" stroke-width="2"/>
<rect x="509.47" y="99.27" width="18.30" height="139.23" fill="#f4bd20" stroke="#000" stroke-width="2"/>
<rect x="542.73" y="72.92" width="18.30" height="165.58" fill="#c2c2c2" stroke="#000" stroke-width="2"/>
<rect x="561.03" y="76.99" width="18.30" height="161.51" fill="#25387e" stroke="#000" stroke-width="2"/>
<rect x="579.33" y="41.44" width="18.30" height="197.06" fill="#f4bd20" stroke="#000" stroke-width="2"/>
<rect x="612.59" y="26.44" width="18.30" height="212.06" fill="#c2c2c2" stroke="#000" stroke-width="2"/>
<rect x="630.89" y="25.37" width="18.30" height="213.13" fill="#25387e" stroke="#000" stroke-width="2"/>
<rect x="649.19" y="26.44" width="18.30" height="212.06" fill="#f4bd20" stroke="#000" stroke-width="2"/>
<circle cx="342" cy="233.3" r="1.4" fill="#333" fill-opacity="0.85"/>
<circle cx="345" cy="233.8" r="1.4" fill="#333" fill-opacity="0.85"/>
<circle cx="340" cy="234.2" r="1.4" fill="#333" fill-opacity="0.85"/>
<circle cx="347" cy="233.5" r="1.4" fill="#333" fill-opacity="0.85"/>
<circle cx="357" cy="235.3" r="1.4" fill="#333" fill-opacity="0.85"/>
<circle cx="362" cy="235.0" r="1.4" fill="#333" fill-opacity="0.85"/>
<circle cx="365" cy="235.4" r="1.4" fill="#333" fill-opacity="0.85"/>
<circle cx="377" cy="229.0" r="1.4" fill="#333" fill-opacity="0.85"/>
<circle cx="381" cy="228.6" r="1.4" fill="#333" fill-opacity="0.85"/>
<circle cx="384" cy="229.2" r="1.4" fill="#333" fill-opacity="0.85"/>
<circle cx="374" cy="229.3" r="1.4" fill="#333" fill-opacity="0.85"/>
<circle cx="408.7" cy="185.8" r="1.4" fill="#333" fill-opacity="0.85"/>
<circle cx="408" cy="189.3" r="1.4" fill="#333" fill-opacity="0.85"/>
<circle cx="409.1" cy="194.1" r="1.4" fill="#333" fill-opacity="0.85"/>
<circle cx="418.4" cy="197.8" r="1.4" fill="#333" fill-opacity="0.85"/>
<circle cx="411.2" cy="201.2" r="1.4" fill="#333" fill-opacity="0.85"/>
<circle cx="412.9" cy="203.7" r="1.4" fill="#333" fill-opacity="0.85"/>
<circle cx="405.3" cy="204" r="1.4" fill="#333" fill-opacity="0.85"/>
<circle cx="404.6" cy="206" r="1.4" fill="#333" fill-opacity="0.85"/>
<circle cx="409.8" cy="212.2" r="1.4" fill="#333" fill-opacity="0.85"/>
<circle cx="409.4" cy="216" r="1.4" fill="#333" fill-opacity="0.85"/>
<circle cx="429.1" cy="173.3" r="1.4" fill="#333" fill-opacity="0.85"/>
<circle cx="431" cy="198.2" r="1.4" fill="#333" fill-opacity="0.85"/>
<circle cx="429.3" cy="223.2" r="1.4" fill="#333" fill-opacity="0.85"/>
<circle cx="425.9" cy="231.4" r="1.4" fill="#333" fill-opacity="0.85"/>
<circle cx="430" cy="230.7" r="1.4" fill="#333" fill-opacity="0.85"/>
<circle cx="432.1" cy="230.3" r="1.4" fill="#333" fill-opacity="0.85"/>
<circle cx="431" cy="232.1" r="1.4" fill="#333" fill-opacity="0.85"/>
<circle cx="447.8" cy="147.8" r="1.4" fill="#333" fill-opacity="0.85"/>
<circle cx="448.5" cy="149.3" r="1.4" fill="#333" fill-opacity="0.85"/>
<circle cx="449.3" cy="151.3" r="1.4" fill="#333" fill-opacity="0.85"/>
<circle cx="444.8" cy="162.2" r="1.4" fill="#333" fill-opacity="0.85"/>
<circle cx="451" cy="150.5" r="1.4" fill="#333" fill-opacity="0.85"/>
<circle cx="446" cy="150.0" r="1.4" fill="#333" fill-opacity="0.85"/>
<circle cx="478.4" cy="137.8" r="1.4" fill="#333" fill-opacity="0.85"/>
<circle cx="485.1" cy="131.9" r="1.4" fill="#333" fill-opacity="0.85"/>
<circle cx="482.1" cy="148.5" r="1.4" fill="#333" fill-opacity="0.85"/>
<circle cx="484.1" cy="147.3" r="1.4" fill="#333" fill-opacity="0.85"/>
<circle cx="480.9" cy="153.5" r="1.4" fill="#333" fill-opacity="0.85"/>
<circle cx="482.6" cy="156" r="1.4" fill="#333" fill-opacity="0.85"/>
<circle cx="483.4" cy="159.7" r="1.4" fill="#333" fill-opacity="0.85"/>
<circle cx="484.6" cy="164.2" r="1.4" fill="#333" fill-opacity="0.85"/>
<circle cx="483.4" cy="167.2" r="1.4" fill="#333" fill-opacity="0.85"/>
<circle cx="477.2" cy="172.2" r="1.4" fill="#333" fill-opacity="0.85"/>
<circle cx="499.6" cy="131.1" r="1.4" fill="#333" fill-opacity="0.85"/>
<circle cx="497.1" cy="135.6" r="1.4" fill="#333" fill-opacity="0.85"/>
<circle cx="497.8" cy="162.2" r="1.4" fill="#333" fill-opacity="0.85"/>
<circle cx="500.8" cy="168.5" r="1.4" fill="#333" fill-opacity="0.85"/>
<circle cx="502.5" cy="184.6" r="1.4" fill="#333" fill-opacity="0.85"/>
<circle cx="501.5" cy="195.8" r="1.4" fill="#333" fill-opacity="0.85"/>
<circle cx="495.8" cy="204.6" r="1.4" fill="#333" fill-opacity="0.85"/>
<circle cx="499.1" cy="216.3" r="1.4" fill="#333" fill-opacity="0.85"/>
<circle cx="519.8" cy="87.8" r="1.4" fill="#333" fill-opacity="0.85"/>
<circle cx="517.8" cy="91.7" r="1.4" fill="#333" fill-opacity="0.85"/>
<circle cx="522.3" cy="96" r="1.4" fill="#333" fill-opacity="0.85"/>
<circle cx="518.5" cy="101" r="1.4" fill="#333" fill-opacity="0.85"/>
<circle cx="521.8" cy="106.7" r="1.4" fill="#333" fill-opacity="0.85"/>
<circle cx="524.8" cy="119.1" r="1.4" fill="#333" fill-opacity="0.85"/>
<circle cx="547.2" cy="52.4" r="1.4" fill="#333" fill-opacity="0.85"/>
<circle cx="554.1" cy="47.4" r="1.4" fill="#333" fill-opacity="0.85"/>
<circle cx="556.6" cy="51.2" r="1.4" fill="#333" fill-opacity="0.85"/>
<circle cx="555.9" cy="64.9" r="1.4" fill="#333" fill-opacity="0.85"/>
<circle cx="550.2" cy="77.8" r="1.4" fill="#333" fill-opacity="0.85"/>
<circle cx="547.7" cy="82.3" r="1.4" fill="#333" fill-opacity="0.85"/>
<circle cx="551.7" cy="83.5" r="1.4" fill="#333" fill-opacity="0.85"/>
<circle cx="554.6" cy="86.8" r="1.4" fill="#333" fill-opacity="0.85"/>
<circle cx="556.4" cy="86" r="1.4" fill="#333" fill-opacity="0.85"/>
<circle cx="549.7" cy="96" r="1.4" fill="#333" fill-opacity="0.85"/>
<circle cx="567.6" cy="39.5" r="1.4" fill="#333" fill-opacity="0.85"/>
<circle cx="565.1" cy="57.9" r="1.4" fill="#333" fill-opacity="0.85"/>
<circle cx="569.6" cy="72.3" r="1.4" fill="#333" fill-opacity="0.85"/>
<circle cx="570.8" cy="83.5" r="1.4" fill="#333" fill-opacity="0.85"/>
<circle cx="569.6" cy="96.7" r="1.4" fill="#333" fill-opacity="0.85"/>
<circle cx="565.8" cy="105.2" r="1.4" fill="#333" fill-opacity="0.85"/>
<circle cx="587" cy="35" r="1.4" fill="#333" fill-opacity="0.85"/>
<circle cx="589" cy="40.5" r="1.4" fill="#333" fill-opacity="0.85"/>
<circle cx="590" cy="45" r="1.4" fill="#333" fill-opacity="0.85"/>
<circle cx="586" cy="37" r="1.4" fill="#333" fill-opacity="0.85"/>
<circle cx="592" cy="38" r="1.4" fill="#333" fill-opacity="0.85"/>
<circle cx="619" cy="26" r="1.4" fill="#333" fill-opacity="0.85"/>
<circle cx="621" cy="28" r="1.4" fill="#333" fill-opacity="0.85"/>
<circle cx="617" cy="27.5" r="1.4" fill="#333" fill-opacity="0.85"/>
<circle cx="623" cy="26.5" r="1.4" fill="#333" fill-opacity="0.85"/>
<circle cx="640" cy="26.2" r="1.4" fill="#333" fill-opacity="0.85"/>
<circle cx="636" cy="26.8" r="1.4" fill="#333" fill-opacity="0.85"/>
<circle cx="644" cy="27" r="1.4" fill="#333" fill-opacity="0.85"/>
<circle cx="659" cy="26.6" r="1.4" fill="#333" fill-opacity="0.85"/>
<circle cx="656" cy="27.5" r="1.4" fill="#333" fill-opacity="0.85"/>
<circle cx="661" cy="27.8" r="1.4" fill="#333" fill-opacity="0.85"/>
<path d="M342.30 233.36V235.07M340.00 233.36H344.60M340.00 235.07H344.60" stroke="#000" stroke-width="1.6" fill="none"/>
<path d="M360.60 235.72V237.00M358.30 235.72H362.90M358.30 237.00H362.90" stroke="#000" stroke-width="1.6" fill="none"/>
<path d="M378.90 229.08V230.36M376.60 229.08H381.20M376.60 230.36H381.20" stroke="#000" stroke-width="1.6" fill="none"/>
<path d="M412.16 197.59V204.01M409.86 197.59H414.46M409.86 204.01H414.46" stroke="#000" stroke-width="1.6" fill="none"/>
<path d="M430.46 211.94V223.93M428.16 211.94H432.76M428.16 223.93H432.76" stroke="#000" stroke-width="1.6" fill="none"/>
<path d="M448.76 148.96V152.39M446.46 148.96H451.06M446.46 152.39H451.06" stroke="#000" stroke-width="1.6" fill="none"/>
<path d="M482.02 148.75V157.75M479.72 148.75H484.32M479.72 157.75H484.32" stroke="#000" stroke-width="1.6" fill="none"/>
<path d="M500.32 170.60V188.16M498.02 170.60H502.62M498.02 188.16H502.62" stroke="#000" stroke-width="1.6" fill="none"/>
<path d="M518.62 96.27V102.27M516.32 96.27H520.92M516.32 102.27H520.92" stroke="#000" stroke-width="1.6" fill="none"/>
<path d="M551.88 67.57V78.28M549.58 67.57H554.18M549.58 78.28H554.18" stroke="#000" stroke-width="1.6" fill="none"/>
<path d="M570.18 70.14V83.85M567.88 70.14H572.48M567.88 83.85H572.48" stroke="#000" stroke-width="1.6" fill="none"/>
<path d="M588.48 39.29V43.58M586.18 39.29H590.78M586.18 43.58H590.78" stroke="#000" stroke-width="1.6" fill="none"/>
<path d="M621.74 25.59V27.30M619.44 25.59H624.04M619.44 27.30H624.04" stroke="#000" stroke-width="1.6" fill="none"/>
<path d="M640.04 24.94V25.80M637.74 24.94H642.34M637.74 25.80H642.34" stroke="#000" stroke-width="1.6" fill="none"/>
<path d="M658.34 25.80V27.08M656.04 25.80H660.64M656.04 27.08H660.64" stroke="#000" stroke-width="1.6" fill="none"/>
<rect x="316.8" y="13.3" width="367.50" height="225.20" fill="none" stroke="#000" stroke-width="2.2"/>
<path d="M316.8 238.50H321.6" stroke="#000" stroke-width="2"/>
<text x="314.9" y="245.30" font-family="Liberation Sans, sans-serif" font-size="19" text-anchor="end">0.0</text>
<path d="M316.8 131.40H321.6" stroke="#000" stroke-width="2"/>
<text x="314.9" y="138.20" font-family="Liberation Sans, sans-serif" font-size="19" text-anchor="end">0.5</text>
<path d="M316.8 24.30H321.6" stroke="#000" stroke-width="2"/>
<text x="314.9" y="31.10" font-family="Liberation Sans, sans-serif" font-size="19" text-anchor="end">1.0</text>
<path d="M360.60 238.5V243.5" stroke="#000" stroke-width="2"/>
<text x="360.60" y="258.5" font-family="Liberation Sans, sans-serif" font-size="19" text-anchor="middle">0.3</text>
<path d="M430.46 238.5V243.5" stroke="#000" stroke-width="2"/>
<text x="430.46" y="258.5" font-family="Liberation Sans, sans-serif" font-size="19" text-anchor="middle">0.35</text>
<path d="M500.32 238.5V243.5" stroke="#000" stroke-width="2"/>
<text x="500.32" y="258.5" font-family="Liberation Sans, sans-serif" font-size="19" text-anchor="middle">0.37</text>
<path d="M570.18 238.5V243.5" stroke="#000" stroke-width="2"/>
<text x="570.18" y="258.5" font-family="Liberation Sans, sans-serif" font-size="19" text-anchor="middle">0.4</text>
<path d="M640.04 238.5V243.5" stroke="#000" stroke-width="2"/>
<text x="640.04" y="258.5" font-family="Liberation Sans, sans-serif" font-size="19" text-anchor="middle">0.45</text>
<ellipse cx="274.2" cy="126.0" rx="6.3" ry="5.45" fill="none" stroke="#000" stroke-width="1.5"/>
<path d="M277.2 125.8 L281.6 120.0" stroke="#000" stroke-width="1.6"/>
<text x="486.8" y="281.3" font-family="Liberation Sans, sans-serif" font-style="italic" font-size="21">ε</text>
<text x="497.9" y="283.1" font-family="Liberation Sans, sans-serif" font-size="12.1">LB</text>
<rect x="332.9" y="30.00" width="36.4" height="12.7" fill="#c2c2c2" stroke="#000" stroke-width="1.9"/>
<text x="383.6" y="43.10" font-family="Liberation Sans, sans-serif" font-size="17.5">S<tspan font-size="15.5" dy="2.6">f</tspan></text>
<rect x="332.9" y="55.90" width="36.4" height="12.7" fill="#25387e" stroke="#000" stroke-width="1.9"/>
<text x="383.6" y="69.00" font-family="Liberation Sans, sans-serif" font-size="17.5">S<tspan font-size="15.5" dy="2.6">nl</tspan></text>
<rect x="332.9" y="81.80" width="36.4" height="12.7" fill="#f4bd20" stroke="#000" stroke-width="1.9"/>
<text x="383.6" y="94.90" font-family="Liberation Sans, sans-serif" font-size="17.5">S<tspan font-size="15.5" dy="2.6">l</tspan></text>
<g>
<g fill="#25387e" fill-opacity="0.8" stroke="#000" stroke-opacity="0.75" stroke-width="0.7">
<rect x="85.91" y="345.91" width="3.03" height="0.14"/>
<rect x="88.94" y="345.91" width="3.03" height="0.14"/>
<rect x="91.96" y="345.91" width="3.03" height="0.14"/>
<rect x="94.99" y="346.05" width="3.03" height="0.00"/>
<rect x="98.01" y="345.84" width="3.03" height="0.21"/>
<rect x="101.04" y="345.84" width="3.03" height="0.21"/>
<rect x="104.06" y="345.62" width="3.03" height="0.43"/>
<rect x="107.09" y="345.40" width="3.03" height="0.65"/>
<rect x="110.11" y="344.73" width="3.03" height="1.32"/>
<rect x="113.14" y="342.75" width="3.03" height="3.30"/>
<rect x="116.16" y="340.98" width="3.03" height="5.07"/>
<rect x="119.19" y="336.85" width="3.03" height="9.20"/>
<rect x="122.21" y="327.19" width="3.03" height="18.86"/>
<rect x="125.24" y="330.87" width="3.03" height="15.18"/>
<rect x="128.26" y="331.79" width="3.03" height="14.26"/>
<rect x="131.29" y="323.97" width="3.03" height="22.08"/>
<rect x="134.31" y="330.41" width="3.03" height="15.64"/>
<rect x="137.34" y="327.19" width="3.03" height="18.86"/>
<rect x="140.36" y="320.29" width="3.03" height="25.76"/>
<rect x="143.39" y="319.83" width="3.03" height="26.22"/>
<rect x="146.41" y="329.03" width="3.03" height="17.02"/>
<rect x="149.44" y="320.75" width="3.03" height="25.30"/>
<rect x="152.46" y="322.13" width="3.03" height="23.92"/>
<rect x="155.49" y="310.63" width="3.03" height="35.42"/>
<rect x="158.51" y="314.31" width="3.03" height="31.74"/>
<rect x="161.54" y="312.47" width="3.03" height="33.58"/>
<rect x="164.56" y="310.63" width="3.03" height="35.42"/>
<rect x="167.59" y="314.31" width="3.03" height="31.74"/>
<rect x="170.61" y="322.13" width="3.03" height="23.92"/>
<rect x="173.64" y="329.03" width="3.03" height="17.02"/>
<rect x="176.66" y="333.63" width="3.03" height="12.42"/>
<rect x="179.69" y="337.31" width="3.03" height="8.74"/>
<rect x="182.71" y="339.61" width="3.03" height="6.44"/>
<rect x="185.74" y="341.45" width="3.03" height="4.60"/>
<rect x="188.76" y="343.63" width="3.03" height="2.42"/>
<rect x="191.79" y="344.51" width="3.03" height="1.54"/>
<rect x="194.81" y="345.40" width="3.03" height="0.65"/>
<rect x="197.84" y="345.62" width="3.03" height="0.43"/>
<rect x="200.86" y="345.84" width="3.03" height="0.21"/>
<rect x="203.89" y="345.84" width="3.03" height="0.21"/>
<rect x="206.91" y="345.84" width="3.03" height="0.21"/>
<rect x="209.94" y="345.40" width="3.03" height="0.65"/>
<rect x="212.96" y="344.51" width="3.03" height="1.54"/>
<rect x="215.99" y="344.51" width="3.03" height="1.54"/>
<rect x="219.01" y="344.51" width="3.03" height="1.54"/>
<rect x="222.04" y="344.51" width="3.03" height="1.54"/>
<rect x="225.06" y="344.51" width="3.03" height="1.54"/>
<rect x="228.09" y="344.51" width="3.03" height="1.54"/>
<rect x="231.11" y="344.51" width="3.03" height="1.54"/>
<rect x="234.14" y="343.19" width="3.03" height="2.86"/>
<rect x="237.16" y="342.31" width="3.03" height="3.74"/>
<rect x="240.19" y="340.07" width="3.03" height="5.98"/>
<rect x="243.21" y="338.69" width="3.03" height="7.36"/>
<rect x="246.24" y="338.23" width="3.03" height="7.82"/>
<rect x="249.26" y="336.85" width="3.03" height="9.20"/>
<rect x="252.29" y="335.47" width="3.03" height="10.58"/>
<rect x="255.31" y="331.79" width="3.03" height="14.26"/>
<rect x="258.34" y="328.62" width="3.03" height="17.43"/>
<rect x="261.36" y="328.62" width="3.03" height="17.43"/>
<rect x="264.39" y="333.47" width="3.03" height="12.58"/>
<rect x="267.41" y="333.92" width="3.03" height="12.13"/>
<rect x="270.44" y="341.86" width="3.03" height="4.19"/>
<rect x="273.46" y="344.07" width="3.03" height="1.98"/>
<rect x="276.49" y="345.84" width="3.03" height="0.21"/>
<rect x="279.51" y="345.84" width="3.03" height="0.21"/>
<rect x="282.54" y="344.51" width="3.03" height="1.54"/>
<rect x="285.56" y="342.75" width="3.03" height="3.30"/>
<rect x="288.59" y="339.21" width="3.03" height="6.84"/>
<rect x="291.61" y="335.68" width="3.03" height="10.37"/>
<rect x="294.64" y="340.98" width="3.03" height="5.07"/>
<rect x="297.66" y="344.51" width="3.03" height="1.54"/>
<rect x="300.69" y="345.84" width="3.03" height="0.21"/>
<rect x="303.71" y="345.87" width="3.03" height="0.18"/>
<rect x="306.74" y="345.87" width="3.03" height="0.18"/>
<rect x="309.76" y="345.87" width="3.03" height="0.18"/>
<rect x="312.79" y="345.87" width="3.03" height="0.18"/>
<rect x="315.81" y="345.87" width="3.03" height="0.18"/>
<rect x="318.84" y="345.87" width="3.03" height="0.18"/>
<rect x="321.86" y="345.87" width="3.03" height="0.18"/>
<rect x="324.89" y="345.87" width="3.03" height="0.18"/>
<rect x="327.91" y="345.87" width="3.03" height="0.18"/>
<rect x="330.94" y="345.87" width="3.03" height="0.18"/>
<rect x="333.96" y="345.87" width="3.03" height="0.18"/>
<rect x="336.99" y="345.87" width="3.03" height="0.18"/>
<rect x="340.01" y="345.87" width="3.03" height="0.18"/>
<rect x="343.04" y="344.96" width="3.03" height="1.09"/>
<rect x="346.06" y="345.40" width="3.03" height="0.65"/>
<rect x="349.09" y="345.84" width="3.03" height="0.21"/>
<rect x="352.11" y="343.19" width="3.03" height="2.86"/>
<rect x="355.14" y="340.98" width="3.03" height="5.07"/>
<rect x="358.16" y="334.36" width="3.03" height="11.69"/>
<rect x="361.19" y="325.08" width="3.03" height="20.97"/>
<rect x="364.21" y="303.00" width="3.03" height="43.05"/>
<rect x="367.24" y="304.33" width="3.03" height="41.72"/>
<rect x="370.26" y="307.42" width="3.03" height="38.63"/>
<rect x="373.29" y="321.55" width="3.03" height="24.50"/>
<rect x="376.31" y="328.62" width="3.03" height="17.43"/>
<rect x="379.34" y="325.52" width="3.03" height="20.53"/>
<rect x="382.36" y="325.52" width="3.03" height="20.53"/>
<rect x="385.39" y="337.89" width="3.03" height="8.16"/>
<rect x="388.41" y="335.68" width="3.03" height="10.37"/>
<rect x="391.44" y="331.71" width="3.03" height="14.34"/>
<rect x="394.46" y="340.98" width="3.03" height="5.07"/>
<rect x="397.49" y="343.63" width="3.03" height="2.42"/>
<rect x="400.51" y="344.07" width="3.03" height="1.98"/>
<rect x="403.54" y="345.84" width="3.03" height="0.21"/>
<rect x="406.56" y="345.84" width="3.03" height="0.21"/>
<rect x="409.59" y="345.40" width="3.03" height="0.65"/>
<rect x="412.61" y="342.75" width="3.03" height="3.30"/>
<rect x="415.64" y="345.40" width="3.03" height="0.65"/>
<rect x="418.66" y="344.96" width="3.03" height="1.09"/>
<rect x="421.69" y="345.84" width="3.03" height="0.21"/>
<rect x="424.71" y="345.82" width="3.03" height="0.23"/>
<rect x="427.74" y="345.82" width="3.03" height="0.23"/>
<rect x="430.76" y="345.82" width="3.03" height="0.23"/>
</g>
<g fill="#f4bd20" fill-opacity="0.82" stroke="#000" stroke-opacity="0.7" stroke-width="0.7">
<rect x="85.91" y="345.87" width="3.03" height="0.18"/>
<rect x="88.94" y="345.87" width="3.03" height="0.18"/>
<rect x="91.96" y="345.87" width="3.03" height="0.18"/>
<rect x="94.99" y="345.82" width="3.03" height="0.23"/>
<rect x="98.01" y="345.59" width="3.03" height="0.46"/>
<rect x="101.04" y="345.59" width="3.03" height="0.46"/>
<rect x="104.06" y="345.36" width="3.03" height="0.69"/>
<rect x="107.09" y="345.13" width="3.03" height="0.92"/>
<rect x="110.11" y="344.44" width="3.03" height="1.61"/>
<rect x="113.14" y="342.37" width="3.03" height="3.68"/>
<rect x="116.16" y="340.53" width="3.03" height="5.52"/>
<rect x="119.19" y="338.23" width="3.03" height="7.82"/>
<rect x="122.21" y="329.95" width="3.03" height="16.10"/>
<rect x="125.24" y="333.17" width="3.03" height="12.88"/>
<rect x="128.26" y="333.86" width="3.03" height="12.19"/>
<rect x="131.29" y="326.73" width="3.03" height="19.32"/>
<rect x="134.31" y="332.71" width="3.03" height="13.34"/>
<rect x="137.34" y="329.03" width="3.03" height="17.02"/>
<rect x="140.36" y="323.05" width="3.03" height="23.00"/>
<rect x="143.39" y="323.05" width="3.03" height="23.00"/>
<rect x="146.41" y="330.41" width="3.03" height="15.64"/>
<rect x="149.44" y="323.51" width="3.03" height="22.54"/>
<rect x="152.46" y="324.89" width="3.03" height="21.16"/>
<rect x="155.49" y="314.31" width="3.03" height="31.74"/>
<rect x="158.51" y="317.53" width="3.03" height="28.52"/>
<rect x="161.54" y="315.69" width="3.03" height="30.36"/>
<rect x="164.56" y="313.85" width="3.03" height="32.20"/>
<rect x="167.59" y="317.76" width="3.03" height="28.29"/>
<rect x="170.61" y="324.66" width="3.03" height="21.39"/>
<rect x="173.64" y="330.87" width="3.03" height="15.18"/>
<rect x="176.66" y="334.78" width="3.03" height="11.27"/>
<rect x="179.69" y="338.23" width="3.03" height="7.82"/>
<rect x="182.71" y="340.53" width="3.03" height="5.52"/>
<rect x="185.74" y="341.91" width="3.03" height="4.14"/>
<rect x="188.76" y="343.29" width="3.03" height="2.76"/>
<rect x="191.79" y="344.21" width="3.03" height="1.84"/>
<rect x="194.81" y="345.13" width="3.03" height="0.92"/>
<rect x="197.84" y="345.36" width="3.03" height="0.69"/>
<rect x="200.86" y="345.59" width="3.03" height="0.46"/>
<rect x="203.89" y="345.59" width="3.03" height="0.46"/>
<rect x="206.91" y="345.59" width="3.03" height="0.46"/>
<rect x="209.94" y="345.13" width="3.03" height="0.92"/>
<rect x="212.96" y="344.21" width="3.03" height="1.84"/>
<rect x="215.99" y="344.21" width="3.03" height="1.84"/>
<rect x="219.01" y="344.21" width="3.03" height="1.84"/>
<rect x="222.04" y="344.21" width="3.03" height="1.84"/>
<rect x="225.06" y="344.21" width="3.03" height="1.84"/>
<rect x="228.09" y="344.21" width="3.03" height="1.84"/>
<rect x="231.11" y="344.21" width="3.03" height="1.84"/>
<rect x="234.14" y="342.83" width="3.03" height="3.22"/>
<rect x="237.16" y="341.91" width="3.03" height="4.14"/>
<rect x="240.19" y="340.53" width="3.03" height="5.52"/>
<rect x="243.21" y="339.15" width="3.03" height="6.90"/>
<rect x="246.24" y="338.69" width="3.03" height="7.36"/>
<rect x="249.26" y="337.77" width="3.03" height="8.28"/>
<rect x="252.29" y="336.39" width="3.03" height="9.66"/>
<rect x="255.31" y="333.63" width="3.03" height="12.42"/>
<rect x="258.34" y="327.65" width="3.03" height="18.40"/>
<rect x="261.36" y="327.65" width="3.03" height="18.40"/>
<rect x="264.39" y="332.71" width="3.03" height="13.34"/>
<rect x="267.41" y="333.17" width="3.03" height="12.88"/>
<rect x="270.44" y="341.45" width="3.03" height="4.60"/>
<rect x="273.46" y="343.75" width="3.03" height="2.30"/>
<rect x="276.49" y="345.59" width="3.03" height="0.46"/>
<rect x="279.51" y="345.59" width="3.03" height="0.46"/>
<rect x="282.54" y="344.21" width="3.03" height="1.84"/>
<rect x="285.56" y="342.37" width="3.03" height="3.68"/>
<rect x="288.59" y="338.69" width="3.03" height="7.36"/>
<rect x="291.61" y="335.01" width="3.03" height="11.04"/>
<rect x="294.64" y="340.53" width="3.03" height="5.52"/>
<rect x="297.66" y="344.21" width="3.03" height="1.84"/>
<rect x="300.69" y="345.59" width="3.03" height="0.46"/>
<rect x="303.71" y="345.82" width="3.03" height="0.23"/>
<rect x="306.74" y="345.82" width="3.03" height="0.23"/>
<rect x="309.76" y="345.82" width="3.03" height="0.23"/>
<rect x="312.79" y="345.82" width="3.03" height="0.23"/>
<rect x="315.81" y="345.82" width="3.03" height="0.23"/>
<rect x="318.84" y="345.82" width="3.03" height="0.23"/>
<rect x="321.86" y="345.82" width="3.03" height="0.23"/>
<rect x="324.89" y="345.82" width="3.03" height="0.23"/>
<rect x="327.91" y="345.82" width="3.03" height="0.23"/>
<rect x="330.94" y="345.82" width="3.03" height="0.23"/>
<rect x="333.96" y="345.82" width="3.03" height="0.23"/>
<rect x="336.99" y="345.82" width="3.03" height="0.23"/>
<rect x="340.01" y="345.82" width="3.03" height="0.23"/>
<rect x="343.04" y="344.67" width="3.03" height="1.38"/>
<rect x="346.06" y="345.13" width="3.03" height="0.92"/>
<rect x="349.09" y="345.59" width="3.03" height="0.46"/>
<rect x="352.11" y="342.83" width="3.03" height="3.22"/>
<rect x="355.14" y="340.53" width="3.03" height="5.52"/>
<rect x="358.16" y="333.63" width="3.03" height="12.42"/>
<rect x="361.19" y="323.97" width="3.03" height="22.08"/>
<rect x="364.21" y="300.97" width="3.03" height="45.08"/>
<rect x="367.24" y="302.35" width="3.03" height="43.70"/>
<rect x="370.26" y="305.57" width="3.03" height="40.48"/>
<rect x="373.29" y="320.29" width="3.03" height="25.76"/>
<rect x="376.31" y="327.65" width="3.03" height="18.40"/>
<rect x="379.34" y="324.43" width="3.03" height="21.62"/>
<rect x="382.36" y="324.43" width="3.03" height="21.62"/>
<rect x="385.39" y="337.31" width="3.03" height="8.74"/>
<rect x="388.41" y="335.01" width="3.03" height="11.04"/>
<rect x="391.44" y="330.87" width="3.03" height="15.18"/>
<rect x="394.46" y="340.53" width="3.03" height="5.52"/>
<rect x="397.49" y="343.29" width="3.03" height="2.76"/>
<rect x="400.51" y="343.75" width="3.03" height="2.30"/>
<rect x="403.54" y="345.59" width="3.03" height="0.46"/>
<rect x="406.56" y="345.59" width="3.03" height="0.46"/>
<rect x="409.59" y="345.13" width="3.03" height="0.92"/>
<rect x="412.61" y="342.37" width="3.03" height="3.68"/>
<rect x="415.64" y="345.13" width="3.03" height="0.92"/>
<rect x="418.66" y="344.67" width="3.03" height="1.38"/>
<rect x="421.69" y="345.59" width="3.03" height="0.46"/>
<rect x="424.71" y="345.77" width="3.03" height="0.28"/>
<rect x="427.74" y="345.77" width="3.03" height="0.28"/>
<rect x="430.76" y="345.77" width="3.03" height="0.28"/>
</g>
<path d="M49.6 323.35H53.6" stroke="#000" stroke-width="1.6"/>
<text x="47" y="329.45" font-family="Liberation Sans, sans-serif" font-size="17" text-anchor="end">0.5</text>
<path d="M49.6 300.65H53.6" stroke="#000" stroke-width="1.6"/>
<text x="47" y="306.75" font-family="Liberation Sans, sans-serif" font-size="17" text-anchor="end">1.0</text>
<text x="420.6" y="315.20" font-family="Liberation Sans, sans-serif" font-style="italic" font-size="19.5">ε</text>
<text x="430.5" y="317.30" font-family="Liberation Sans, sans-serif" font-size="12">LB</text>
<path d="M450.8 306.85H461.8M450.8 310.40H461.8" stroke="#000" stroke-width="1.4"/>
<text x="467.0" y="314.50" font-family="Liberation Sans, sans-serif" font-size="17.3" textLength="37.9" lengthAdjust="spacingAndGlyphs">0.30</text>
<rect x="523.2" y="298.60" width="62.07" height="20.6" fill="#f7ca4f" stroke="#333" stroke-width="1.5"/>
<rect x="523.2" y="323.20" width="73.00" height="20.6" fill="#4f5e99" stroke="#333" stroke-width="1.5"/>
<path d="M581.37 308.90H589.18M581.37 304.60V313.20M589.18 304.60V313.20" stroke="#000" stroke-width="1.6" fill="none"/>
<path d="M591.32 333.50H601.08M591.32 329.20V337.80M601.08 329.20V337.80" stroke="#000" stroke-width="1.6" fill="none"/>
<g>
<g fill="#25387e" fill-opacity="0.8" stroke="#000" stroke-opacity="0.75" stroke-width="0.7">
<rect x="85.91" y="395.66" width="3.03" height="0.14"/>
<rect x="88.94" y="395.66" width="3.03" height="0.14"/>
<rect x="91.96" y="395.66" width="3.03" height="0.14"/>
<rect x="94.99" y="395.66" width="3.03" height="0.14"/>
<rect x="98.01" y="395.66" width="3.03" height="0.14"/>
<rect x="101.04" y="395.80" width="3.03" height="0.00"/>
<rect x="104.06" y="395.59" width="3.03" height="0.21"/>
<rect x="107.09" y="394.71" width="3.03" height="1.09"/>
<rect x="110.11" y="393.82" width="3.03" height="1.98"/>
<rect x="113.14" y="392.94" width="3.03" height="2.86"/>
<rect x="116.16" y="390.28" width="3.03" height="5.52"/>
<rect x="119.19" y="387.06" width="3.03" height="8.74"/>
<rect x="122.21" y="377.40" width="3.03" height="18.40"/>
<rect x="125.24" y="381.54" width="3.03" height="14.26"/>
<rect x="128.26" y="382.46" width="3.03" height="13.34"/>
<rect x="131.29" y="375.56" width="3.03" height="20.24"/>
<rect x="134.31" y="381.54" width="3.03" height="14.26"/>
<rect x="137.34" y="378.32" width="3.03" height="17.48"/>
<rect x="140.36" y="371.42" width="3.03" height="24.38"/>
<rect x="143.39" y="370.96" width="3.03" height="24.84"/>
<rect x="146.41" y="379.70" width="3.03" height="16.10"/>
<rect x="149.44" y="371.42" width="3.03" height="24.38"/>
<rect x="152.46" y="371.88" width="3.03" height="23.92"/>
<rect x="155.49" y="360.70" width="3.03" height="35.10"/>
<rect x="158.51" y="359.38" width="3.03" height="36.42"/>
<rect x="161.54" y="355.84" width="3.03" height="39.96"/>
<rect x="164.56" y="352.75" width="3.03" height="43.05"/>
<rect x="167.59" y="357.39" width="3.03" height="38.41"/>
<rect x="170.61" y="366.88" width="3.03" height="28.92"/>
<rect x="173.64" y="373.95" width="3.03" height="21.85"/>
<rect x="176.66" y="379.69" width="3.03" height="16.11"/>
<rect x="179.69" y="382.78" width="3.03" height="13.02"/>
<rect x="182.71" y="385.87" width="3.03" height="9.93"/>
<rect x="185.74" y="387.52" width="3.03" height="8.28"/>
<rect x="188.76" y="390.28" width="3.03" height="5.52"/>
<rect x="191.79" y="392.50" width="3.03" height="3.30"/>
<rect x="194.81" y="393.82" width="3.03" height="1.98"/>
<rect x="197.84" y="394.26" width="3.03" height="1.54"/>
<rect x="200.86" y="394.71" width="3.03" height="1.09"/>
<rect x="203.89" y="394.71" width="3.03" height="1.09"/>
<rect x="206.91" y="394.48" width="3.03" height="1.32"/>
<rect x="209.94" y="394.26" width="3.03" height="1.54"/>
<rect x="212.96" y="392.94" width="3.03" height="2.86"/>
<rect x="215.99" y="392.94" width="3.03" height="2.86"/>
<rect x="219.01" y="392.94" width="3.03" height="2.86"/>
<rect x="222.04" y="393.38" width="3.03" height="2.42"/>
<rect x="225.06" y="393.38" width="3.03" height="2.42"/>
<rect x="228.09" y="394.26" width="3.03" height="1.54"/>
<rect x="231.11" y="393.38" width="3.03" height="2.42"/>
<rect x="234.14" y="392.94" width="3.03" height="2.86"/>
<rect x="237.16" y="392.06" width="3.03" height="3.74"/>
<rect x="240.19" y="390.29" width="3.03" height="5.51"/>
<rect x="243.21" y="388.96" width="3.03" height="6.84"/>
<rect x="246.24" y="388.52" width="3.03" height="7.28"/>
<rect x="249.26" y="387.64" width="3.03" height="8.16"/>
<rect x="252.29" y="386.31" width="3.03" height="9.49"/>
<rect x="255.31" y="383.67" width="3.03" height="12.13"/>
<rect x="258.34" y="380.13" width="3.03" height="15.67"/>
<rect x="261.36" y="380.13" width="3.03" height="15.67"/>
<rect x="264.39" y="384.11" width="3.03" height="11.69"/>
<rect x="267.41" y="384.55" width="3.03" height="11.25"/>
<rect x="270.44" y="392.06" width="3.03" height="3.74"/>
<rect x="273.46" y="393.82" width="3.03" height="1.98"/>
<rect x="276.49" y="395.59" width="3.03" height="0.21"/>
<rect x="279.51" y="395.59" width="3.03" height="0.21"/>
<rect x="282.54" y="394.71" width="3.03" height="1.09"/>
<rect x="285.56" y="392.94" width="3.03" height="2.86"/>
<rect x="288.59" y="388.96" width="3.03" height="6.84"/>
<rect x="291.61" y="385.87" width="3.03" height="9.93"/>
<rect x="294.64" y="391.17" width="3.03" height="4.63"/>
<rect x="297.66" y="394.71" width="3.03" height="1.09"/>
<rect x="300.69" y="395.59" width="3.03" height="0.21"/>
<rect x="303.71" y="395.62" width="3.03" height="0.18"/>
<rect x="306.74" y="395.62" width="3.03" height="0.18"/>
<rect x="309.76" y="395.62" width="3.03" height="0.18"/>
<rect x="312.79" y="395.62" width="3.03" height="0.18"/>
<rect x="315.81" y="395.62" width="3.03" height="0.18"/>
<rect x="318.84" y="395.62" width="3.03" height="0.18"/>
<rect x="321.86" y="395.62" width="3.03" height="0.18"/>
<rect x="324.89" y="395.62" width="3.03" height="0.18"/>
<rect x="327.91" y="395.62" width="3.03" height="0.18"/>
<rect x="330.94" y="395.62" width="3.03" height="0.18"/>
<rect x="333.96" y="395.62" width="3.03" height="0.18"/>
<rect x="336.99" y="395.62" width="3.03" height="0.18"/>
<rect x="340.01" y="395.62" width="3.03" height="0.18"/>
<rect x="343.04" y="395.15" width="3.03" height="0.65"/>
<rect x="346.06" y="395.15" width="3.03" height="0.65"/>
<rect x="349.09" y="395.59" width="3.03" height="0.21"/>
<rect x="352.11" y="393.38" width="3.03" height="2.42"/>
<rect x="355.14" y="391.61" width="3.03" height="4.19"/>
<rect x="358.16" y="385.43" width="3.03" height="10.37"/>
<rect x="361.19" y="377.04" width="3.03" height="18.76"/>
<rect x="364.21" y="356.29" width="3.03" height="39.51"/>
<rect x="367.24" y="358.05" width="3.03" height="37.75"/>
<rect x="370.26" y="360.70" width="3.03" height="35.10"/>
<rect x="373.29" y="374.39" width="3.03" height="21.41"/>
<rect x="376.31" y="380.13" width="3.03" height="15.67"/>
<rect x="379.34" y="377.92" width="3.03" height="17.88"/>
<rect x="382.36" y="377.04" width="3.03" height="18.76"/>
<rect x="385.39" y="388.96" width="3.03" height="6.84"/>
<rect x="388.41" y="386.76" width="3.03" height="9.04"/>
<rect x="391.44" y="384.11" width="3.03" height="11.69"/>
<rect x="394.46" y="391.61" width="3.03" height="4.19"/>
<rect x="397.49" y="394.26" width="3.03" height="1.54"/>
<rect x="400.51" y="394.26" width="3.03" height="1.54"/>
<rect x="403.54" y="395.59" width="3.03" height="0.21"/>
<rect x="406.56" y="395.59" width="3.03" height="0.21"/>
<rect x="409.59" y="395.15" width="3.03" height="0.65"/>
<rect x="412.61" y="393.38" width="3.03" height="2.42"/>
<rect x="415.64" y="395.15" width="3.03" height="0.65"/>
<rect x="418.66" y="394.71" width="3.03" height="1.09"/>
<rect x="421.69" y="395.59" width="3.03" height="0.21"/>
<rect x="424.71" y="395.57" width="3.03" height="0.23"/>
<rect x="427.74" y="395.57" width="3.03" height="0.23"/>
<rect x="430.76" y="395.57" width="3.03" height="0.23"/>
</g>
<g fill="#f4bd20" fill-opacity="0.82" stroke="#000" stroke-opacity="0.7" stroke-width="0.7">
<rect x="85.91" y="395.62" width="3.03" height="0.18"/>
<rect x="88.94" y="395.62" width="3.03" height="0.18"/>
<rect x="91.96" y="395.62" width="3.03" height="0.18"/>
<rect x="94.99" y="395.62" width="3.03" height="0.18"/>
<rect x="98.01" y="395.62" width="3.03" height="0.18"/>
<rect x="101.04" y="395.57" width="3.03" height="0.23"/>
<rect x="104.06" y="395.34" width="3.03" height="0.46"/>
<rect x="107.09" y="394.42" width="3.03" height="1.38"/>
<rect x="110.11" y="393.50" width="3.03" height="2.30"/>
<rect x="113.14" y="392.58" width="3.03" height="3.22"/>
<rect x="116.16" y="391.66" width="3.03" height="4.14"/>
<rect x="119.19" y="388.90" width="3.03" height="6.90"/>
<rect x="122.21" y="381.08" width="3.03" height="14.72"/>
<rect x="125.24" y="385.68" width="3.03" height="10.12"/>
<rect x="128.26" y="387.98" width="3.03" height="7.82"/>
<rect x="131.29" y="382.92" width="3.03" height="12.88"/>
<rect x="134.31" y="386.60" width="3.03" height="9.20"/>
<rect x="137.34" y="384.30" width="3.03" height="11.50"/>
<rect x="140.36" y="376.94" width="3.03" height="18.86"/>
<rect x="143.39" y="376.94" width="3.03" height="18.86"/>
<rect x="146.41" y="383.84" width="3.03" height="11.96"/>
<rect x="149.44" y="375.56" width="3.03" height="20.24"/>
<rect x="152.46" y="375.56" width="3.03" height="20.24"/>
<rect x="155.49" y="359.00" width="3.03" height="36.80"/>
<rect x="158.51" y="357.62" width="3.03" height="38.18"/>
<rect x="161.54" y="353.94" width="3.03" height="41.86"/>
<rect x="164.56" y="350.72" width="3.03" height="45.08"/>
<rect x="167.59" y="355.55" width="3.03" height="40.25"/>
<rect x="170.61" y="365.44" width="3.03" height="30.36"/>
<rect x="173.64" y="372.80" width="3.03" height="23.00"/>
<rect x="176.66" y="378.78" width="3.03" height="17.02"/>
<rect x="179.69" y="382.00" width="3.03" height="13.80"/>
<rect x="182.71" y="385.22" width="3.03" height="10.58"/>
<rect x="185.74" y="388.90" width="3.03" height="6.90"/>
<rect x="188.76" y="391.20" width="3.03" height="4.60"/>
<rect x="191.79" y="392.12" width="3.03" height="3.68"/>
<rect x="194.81" y="393.50" width="3.03" height="2.30"/>
<rect x="197.84" y="393.96" width="3.03" height="1.84"/>
<rect x="200.86" y="394.42" width="3.03" height="1.38"/>
<rect x="203.89" y="394.42" width="3.03" height="1.38"/>
<rect x="206.91" y="394.19" width="3.03" height="1.61"/>
<rect x="209.94" y="393.96" width="3.03" height="1.84"/>
<rect x="212.96" y="392.58" width="3.03" height="3.22"/>
<rect x="215.99" y="392.58" width="3.03" height="3.22"/>
<rect x="219.01" y="392.58" width="3.03" height="3.22"/>
<rect x="222.04" y="393.04" width="3.03" height="2.76"/>
<rect x="225.06" y="393.04" width="3.03" height="2.76"/>
<rect x="228.09" y="393.96" width="3.03" height="1.84"/>
<rect x="231.11" y="393.04" width="3.03" height="2.76"/>
<rect x="234.14" y="392.58" width="3.03" height="3.22"/>
<rect x="237.16" y="391.66" width="3.03" height="4.14"/>
<rect x="240.19" y="389.82" width="3.03" height="5.98"/>
<rect x="243.21" y="388.44" width="3.03" height="7.36"/>
<rect x="246.24" y="387.98" width="3.03" height="7.82"/>
<rect x="249.26" y="387.06" width="3.03" height="8.74"/>
<rect x="252.29" y="385.68" width="3.03" height="10.12"/>
<rect x="255.31" y="382.92" width="3.03" height="12.88"/>
<rect x="258.34" y="379.24" width="3.03" height="16.56"/>
<rect x="261.36" y="379.24" width="3.03" height="16.56"/>
<rect x="264.39" y="383.38" width="3.03" height="12.42"/>
<rect x="267.41" y="383.84" width="3.03" height="11.96"/>
<rect x="270.44" y="391.66" width="3.03" height="4.14"/>
<rect x="273.46" y="393.50" width="3.03" height="2.30"/>
<rect x="276.49" y="395.34" width="3.03" height="0.46"/>
<rect x="279.51" y="395.34" width="3.03" height="0.46"/>
<rect x="282.54" y="394.42" width="3.03" height="1.38"/>
<rect x="285.56" y="392.58" width="3.03" height="3.22"/>
<rect x="288.59" y="388.44" width="3.03" height="7.36"/>
<rect x="291.61" y="385.22" width="3.03" height="10.58"/>
<rect x="294.64" y="390.74" width="3.03" height="5.06"/>
<rect x="297.66" y="394.42" width="3.03" height="1.38"/>
<rect x="300.69" y="395.34" width="3.03" height="0.46"/>
<rect x="303.71" y="395.57" width="3.03" height="0.23"/>
<rect x="306.74" y="395.57" width="3.03" height="0.23"/>
<rect x="309.76" y="395.57" width="3.03" height="0.23"/>
<rect x="312.79" y="395.57" width="3.03" height="0.23"/>
<rect x="315.81" y="395.57" width="3.03" height="0.23"/>
<rect x="318.84" y="395.57" width="3.03" height="0.23"/>
<rect x="321.86" y="395.57" width="3.03" height="0.23"/>
<rect x="324.89" y="395.57" width="3.03" height="0.23"/>
<rect x="327.91" y="395.57" width="3.03" height="0.23"/>
<rect x="330.94" y="395.57" width="3.03" height="0.23"/>
<rect x="333.96" y="395.57" width="3.03" height="0.23"/>
<rect x="336.99" y="395.57" width="3.03" height="0.23"/>
<rect x="340.01" y="395.57" width="3.03" height="0.23"/>
<rect x="343.04" y="394.88" width="3.03" height="0.92"/>
<rect x="346.06" y="394.88" width="3.03" height="0.92"/>
<rect x="349.09" y="395.34" width="3.03" height="0.46"/>
<rect x="352.11" y="393.04" width="3.03" height="2.76"/>
<rect x="355.14" y="391.20" width="3.03" height="4.60"/>
<rect x="358.16" y="384.76" width="3.03" height="11.04"/>
<rect x="361.19" y="376.02" width="3.03" height="19.78"/>
<rect x="364.21" y="354.40" width="3.03" height="41.40"/>
<rect x="367.24" y="356.24" width="3.03" height="39.56"/>
<rect x="370.26" y="359.00" width="3.03" height="36.80"/>
<rect x="373.29" y="373.26" width="3.03" height="22.54"/>
<rect x="376.31" y="379.24" width="3.03" height="16.56"/>
<rect x="379.34" y="376.94" width="3.03" height="18.86"/>
<rect x="382.36" y="376.02" width="3.03" height="19.78"/>
<rect x="385.39" y="388.44" width="3.03" height="7.36"/>
<rect x="388.41" y="386.14" width="3.03" height="9.66"/>
<rect x="391.44" y="383.38" width="3.03" height="12.42"/>
<rect x="394.46" y="391.20" width="3.03" height="4.60"/>
<rect x="397.49" y="393.96" width="3.03" height="1.84"/>
<rect x="400.51" y="393.96" width="3.03" height="1.84"/>
<rect x="403.54" y="395.34" width="3.03" height="0.46"/>
<rect x="406.56" y="395.34" width="3.03" height="0.46"/>
<rect x="409.59" y="394.88" width="3.03" height="0.92"/>
<rect x="412.61" y="393.04" width="3.03" height="2.76"/>
<rect x="415.64" y="394.88" width="3.03" height="0.92"/>
<rect x="418.66" y="394.42" width="3.03" height="1.38"/>
<rect x="421.69" y="395.34" width="3.03" height="0.46"/>
<rect x="424.71" y="395.52" width="3.03" height="0.28"/>
<rect x="427.74" y="395.52" width="3.03" height="0.28"/>
<rect x="430.76" y="395.52" width="3.03" height="0.28"/>
</g>
<path d="M49.6 373.10H53.6" stroke="#000" stroke-width="1.6"/>
<text x="47" y="379.20" font-family="Liberation Sans, sans-serif" font-size="17" text-anchor="end">0.5</text>
<path d="M49.6 350.40H53.6" stroke="#000" stroke-width="1.6"/>
<text x="47" y="356.50" font-family="Liberation Sans, sans-serif" font-size="17" text-anchor="end">1.0</text>
<text x="420.6" y="364.95" font-family="Liberation Sans, sans-serif" font-style="italic" font-size="19.5">ε</text>
<text x="430.5" y="367.05" font-family="Liberation Sans, sans-serif" font-size="12">LB</text>
<path d="M450.8 356.60H461.8M450.8 360.15H461.8" stroke="#000" stroke-width="1.4"/>
<text x="467.0" y="364.25" font-family="Liberation Sans, sans-serif" font-size="17.3" textLength="37.9" lengthAdjust="spacingAndGlyphs">0.35</text>
<rect x="523.2" y="348.35" width="66.17" height="20.6" fill="#f7ca4f" stroke="#333" stroke-width="1.5"/>
<rect x="523.2" y="372.95" width="72.03" height="20.6" fill="#4f5e99" stroke="#333" stroke-width="1.5"/>
<path d="M585.08 358.65H593.67M585.08 354.35V362.95M593.67 354.35V362.95" stroke="#000" stroke-width="1.6" fill="none"/>
<path d="M590.54 383.25H599.91M590.54 378.95V387.55M599.91 378.95V387.55" stroke="#000" stroke-width="1.6" fill="none"/>
<g>
<g fill="#25387e" fill-opacity="0.8" stroke="#000" stroke-opacity="0.75" stroke-width="0.7">
<rect x="85.91" y="445.41" width="3.03" height="0.14"/>
<rect x="88.94" y="445.41" width="3.03" height="0.14"/>
<rect x="91.96" y="445.41" width="3.03" height="0.14"/>
<rect x="94.99" y="445.41" width="3.03" height="0.14"/>
<rect x="98.01" y="445.41" width="3.03" height="0.14"/>
<rect x="101.04" y="445.55" width="3.03" height="0.00"/>
<rect x="104.06" y="445.34" width="3.03" height="0.21"/>
<rect x="107.09" y="444.90" width="3.03" height="0.65"/>
<rect x="110.11" y="443.13" width="3.03" height="2.42"/>
<rect x="113.14" y="442.25" width="3.03" height="3.30"/>
<rect x="116.16" y="440.95" width="3.03" height="4.60"/>
<rect x="119.19" y="438.19" width="3.03" height="7.36"/>
<rect x="122.21" y="431.29" width="3.03" height="14.26"/>
<rect x="125.24" y="434.97" width="3.03" height="10.58"/>
<rect x="128.26" y="435.89" width="3.03" height="9.66"/>
<rect x="131.29" y="431.29" width="3.03" height="14.26"/>
<rect x="134.31" y="435.43" width="3.03" height="10.12"/>
<rect x="137.34" y="433.13" width="3.03" height="12.42"/>
<rect x="140.36" y="427.15" width="3.03" height="18.40"/>
<rect x="143.39" y="427.15" width="3.03" height="18.40"/>
<rect x="146.41" y="433.59" width="3.03" height="11.96"/>
<rect x="149.44" y="425.77" width="3.03" height="19.78"/>
<rect x="152.46" y="425.31" width="3.03" height="20.24"/>
<rect x="155.49" y="413.54" width="3.03" height="32.01"/>
<rect x="158.51" y="409.57" width="3.03" height="35.98"/>
<rect x="161.54" y="405.59" width="3.03" height="39.96"/>
<rect x="164.56" y="402.50" width="3.03" height="43.05"/>
<rect x="167.59" y="407.36" width="3.03" height="38.19"/>
<rect x="170.61" y="412.89" width="3.03" height="32.66"/>
<rect x="173.64" y="417.49" width="3.03" height="28.06"/>
<rect x="176.66" y="421.63" width="3.03" height="23.92"/>
<rect x="179.69" y="425.77" width="3.03" height="19.78"/>
<rect x="182.71" y="429.45" width="3.03" height="16.10"/>
<rect x="185.74" y="432.67" width="3.03" height="12.88"/>
<rect x="188.76" y="437.27" width="3.03" height="8.28"/>
<rect x="191.79" y="439.11" width="3.03" height="6.44"/>
<rect x="194.81" y="441.41" width="3.03" height="4.14"/>
<rect x="197.84" y="441.87" width="3.03" height="3.68"/>
<rect x="200.86" y="442.33" width="3.03" height="3.22"/>
<rect x="203.89" y="442.79" width="3.03" height="2.76"/>
<rect x="206.91" y="442.79" width="3.03" height="2.76"/>
<rect x="209.94" y="441.87" width="3.03" height="3.68"/>
<rect x="212.96" y="440.49" width="3.03" height="5.06"/>
<rect x="215.99" y="440.49" width="3.03" height="5.06"/>
<rect x="219.01" y="440.95" width="3.03" height="4.60"/>
<rect x="222.04" y="441.41" width="3.03" height="4.14"/>
<rect x="225.06" y="441.87" width="3.03" height="3.68"/>
<rect x="228.09" y="442.33" width="3.03" height="3.22"/>
<rect x="231.11" y="442.33" width="3.03" height="3.22"/>
<rect x="234.14" y="441.41" width="3.03" height="4.14"/>
<rect x="237.16" y="441.81" width="3.03" height="3.74"/>
<rect x="240.19" y="440.04" width="3.03" height="5.51"/>
<rect x="243.21" y="439.16" width="3.03" height="6.39"/>
<rect x="246.24" y="438.71" width="3.03" height="6.84"/>
<rect x="249.26" y="437.83" width="3.03" height="7.72"/>
<rect x="252.29" y="436.35" width="3.03" height="9.20"/>
<rect x="255.31" y="434.05" width="3.03" height="11.50"/>
<rect x="258.34" y="431.21" width="3.03" height="14.34"/>
<rect x="261.36" y="431.21" width="3.03" height="14.34"/>
<rect x="264.39" y="434.74" width="3.03" height="10.81"/>
<rect x="267.41" y="435.62" width="3.03" height="9.93"/>
<rect x="270.44" y="441.81" width="3.03" height="3.74"/>
<rect x="273.46" y="444.01" width="3.03" height="1.54"/>
<rect x="276.49" y="445.34" width="3.03" height="0.21"/>
<rect x="279.51" y="445.34" width="3.03" height="0.21"/>
<rect x="282.54" y="444.90" width="3.03" height="0.65"/>
<rect x="285.56" y="443.13" width="3.03" height="2.42"/>
<rect x="288.59" y="440.04" width="3.03" height="5.51"/>
<rect x="291.61" y="436.51" width="3.03" height="9.04"/>
<rect x="294.64" y="442.25" width="3.03" height="3.30"/>
<rect x="297.66" y="444.90" width="3.03" height="0.65"/>
<rect x="300.69" y="445.37" width="3.03" height="0.18"/>
<rect x="303.71" y="445.37" width="3.03" height="0.18"/>
<rect x="306.74" y="445.37" width="3.03" height="0.18"/>
<rect x="309.76" y="445.37" width="3.03" height="0.18"/>
<rect x="312.79" y="445.37" width="3.03" height="0.18"/>
<rect x="315.81" y="445.37" width="3.03" height="0.18"/>
<rect x="318.84" y="445.37" width="3.03" height="0.18"/>
<rect x="321.86" y="445.37" width="3.03" height="0.18"/>
<rect x="324.89" y="445.37" width="3.03" height="0.18"/>
<rect x="327.91" y="445.37" width="3.03" height="0.18"/>
<rect x="330.94" y="445.37" width="3.03" height="0.18"/>
<rect x="333.96" y="445.37" width="3.03" height="0.18"/>
<rect x="336.99" y="445.37" width="3.03" height="0.18"/>
<rect x="340.01" y="445.37" width="3.03" height="0.18"/>
<rect x="343.04" y="444.90" width="3.03" height="0.65"/>
<rect x="346.06" y="445.34" width="3.03" height="0.21"/>
<rect x="349.09" y="445.34" width="3.03" height="0.21"/>
<rect x="352.11" y="443.57" width="3.03" height="1.98"/>
<rect x="355.14" y="442.25" width="3.03" height="3.30"/>
<rect x="358.16" y="436.95" width="3.03" height="8.60"/>
<rect x="361.19" y="429.00" width="3.03" height="16.55"/>
<rect x="364.21" y="410.89" width="3.03" height="34.66"/>
<rect x="367.24" y="411.78" width="3.03" height="33.77"/>
<rect x="370.26" y="413.54" width="3.03" height="32.01"/>
<rect x="373.29" y="426.35" width="3.03" height="19.20"/>
<rect x="376.31" y="431.65" width="3.03" height="13.90"/>
<rect x="379.34" y="429.00" width="3.03" height="16.55"/>
<rect x="382.36" y="428.56" width="3.03" height="16.99"/>
<rect x="385.39" y="439.60" width="3.03" height="5.95"/>
<rect x="388.41" y="437.39" width="3.03" height="8.16"/>
<rect x="391.44" y="434.74" width="3.03" height="10.81"/>
<rect x="394.46" y="441.81" width="3.03" height="3.74"/>
<rect x="397.49" y="444.01" width="3.03" height="1.54"/>
<rect x="400.51" y="444.46" width="3.03" height="1.09"/>
<rect x="403.54" y="445.34" width="3.03" height="0.21"/>
<rect x="406.56" y="445.34" width="3.03" height="0.21"/>
<rect x="409.59" y="444.90" width="3.03" height="0.65"/>
<rect x="412.61" y="443.57" width="3.03" height="1.98"/>
<rect x="415.64" y="444.90" width="3.03" height="0.65"/>
<rect x="418.66" y="444.90" width="3.03" height="0.65"/>
<rect x="421.69" y="445.32" width="3.03" height="0.23"/>
<rect x="424.71" y="445.32" width="3.03" height="0.23"/>
<rect x="427.74" y="445.32" width="3.03" height="0.23"/>
<rect x="430.76" y="445.32" width="3.03" height="0.23"/>
</g>
<g fill="#f4bd20" fill-opacity="0.82" stroke="#000" stroke-opacity="0.7" stroke-width="0.7">
<rect x="85.91" y="445.37" width="3.03" height="0.18"/>
<rect x="88.94" y="445.37" width="3.03" height="0.18"/>
<rect x="91.96" y="445.37" width="3.03" height="0.18"/>
<rect x="94.99" y="445.37" width="3.03" height="0.18"/>
<rect x="98.01" y="445.37" width="3.03" height="0.18"/>
<rect x="101.04" y="445.32" width="3.03" height="0.23"/>
<rect x="104.06" y="445.09" width="3.03" height="0.46"/>
<rect x="107.09" y="444.63" width="3.03" height="0.92"/>
<rect x="110.11" y="442.79" width="3.03" height="2.76"/>
<rect x="113.14" y="441.87" width="3.03" height="3.68"/>
<rect x="116.16" y="442.33" width="3.03" height="3.22"/>
<rect x="119.19" y="440.49" width="3.03" height="5.06"/>
<rect x="122.21" y="434.05" width="3.03" height="11.50"/>
<rect x="125.24" y="438.65" width="3.03" height="6.90"/>
<rect x="128.26" y="440.49" width="3.03" height="5.06"/>
<rect x="131.29" y="438.19" width="3.03" height="7.36"/>
<rect x="134.31" y="440.03" width="3.03" height="5.52"/>
<rect x="137.34" y="438.65" width="3.03" height="6.90"/>
<rect x="140.36" y="431.75" width="3.03" height="13.80"/>
<rect x="143.39" y="431.75" width="3.03" height="13.80"/>
<rect x="146.41" y="437.27" width="3.03" height="8.28"/>
<rect x="149.44" y="428.99" width="3.03" height="16.56"/>
<rect x="152.46" y="428.99" width="3.03" height="16.56"/>
<rect x="155.49" y="411.97" width="3.03" height="33.58"/>
<rect x="158.51" y="407.83" width="3.03" height="37.72"/>
<rect x="161.54" y="403.69" width="3.03" height="41.86"/>
<rect x="164.56" y="400.47" width="3.03" height="45.08"/>
<rect x="167.59" y="405.53" width="3.03" height="40.02"/>
<rect x="170.61" y="415.19" width="3.03" height="30.36"/>
<rect x="173.64" y="422.55" width="3.03" height="23.00"/>
<rect x="176.66" y="427.61" width="3.03" height="17.94"/>
<rect x="179.69" y="432.67" width="3.03" height="12.88"/>
<rect x="182.71" y="435.89" width="3.03" height="9.66"/>
<rect x="185.74" y="438.19" width="3.03" height="7.36"/>
<rect x="188.76" y="440.95" width="3.03" height="4.60"/>
<rect x="191.79" y="442.79" width="3.03" height="2.76"/>
<rect x="194.81" y="443.25" width="3.03" height="2.30"/>
<rect x="197.84" y="443.71" width="3.03" height="1.84"/>
<rect x="200.86" y="443.71" width="3.03" height="1.84"/>
<rect x="203.89" y="444.17" width="3.03" height="1.38"/>
<rect x="206.91" y="444.17" width="3.03" height="1.38"/>
<rect x="209.94" y="443.25" width="3.03" height="2.30"/>
<rect x="212.96" y="442.79" width="3.03" height="2.76"/>
<rect x="215.99" y="442.79" width="3.03" height="2.76"/>
<rect x="219.01" y="442.79" width="3.03" height="2.76"/>
<rect x="222.04" y="442.79" width="3.03" height="2.76"/>
<rect x="225.06" y="442.79" width="3.03" height="2.76"/>
<rect x="228.09" y="443.25" width="3.03" height="2.30"/>
<rect x="231.11" y="442.79" width="3.03" height="2.76"/>
<rect x="234.14" y="441.87" width="3.03" height="3.68"/>
<rect x="237.16" y="441.41" width="3.03" height="4.14"/>
<rect x="240.19" y="439.57" width="3.03" height="5.98"/>
<rect x="243.21" y="438.65" width="3.03" height="6.90"/>
<rect x="246.24" y="438.19" width="3.03" height="7.36"/>
<rect x="249.26" y="437.27" width="3.03" height="8.28"/>
<rect x="252.29" y="437.73" width="3.03" height="7.82"/>
<rect x="255.31" y="435.89" width="3.03" height="9.66"/>
<rect x="258.34" y="430.37" width="3.03" height="15.18"/>
<rect x="261.36" y="430.37" width="3.03" height="15.18"/>
<rect x="264.39" y="434.05" width="3.03" height="11.50"/>
<rect x="267.41" y="434.97" width="3.03" height="10.58"/>
<rect x="270.44" y="441.41" width="3.03" height="4.14"/>
<rect x="273.46" y="443.71" width="3.03" height="1.84"/>
<rect x="276.49" y="445.09" width="3.03" height="0.46"/>
<rect x="279.51" y="445.09" width="3.03" height="0.46"/>
<rect x="282.54" y="444.63" width="3.03" height="0.92"/>
<rect x="285.56" y="442.79" width="3.03" height="2.76"/>
<rect x="288.59" y="439.57" width="3.03" height="5.98"/>
<rect x="291.61" y="435.89" width="3.03" height="9.66"/>
<rect x="294.64" y="441.87" width="3.03" height="3.68"/>
<rect x="297.66" y="444.63" width="3.03" height="0.92"/>
<rect x="300.69" y="445.32" width="3.03" height="0.23"/>
<rect x="303.71" y="445.32" width="3.03" height="0.23"/>
<rect x="306.74" y="445.32" width="3.03" height="0.23"/>
<rect x="309.76" y="445.32" width="3.03" height="0.23"/>
<rect x="312.79" y="445.32" width="3.03" height="0.23"/>
<rect x="315.81" y="445.32" width="3.03" height="0.23"/>
<rect x="318.84" y="445.32" width="3.03" height="0.23"/>
<rect x="321.86" y="445.32" width="3.03" height="0.23"/>
<rect x="324.89" y="445.32" width="3.03" height="0.23"/>
<rect x="327.91" y="445.32" width="3.03" height="0.23"/>
<rect x="330.94" y="445.32" width="3.03" height="0.23"/>
<rect x="333.96" y="445.32" width="3.03" height="0.23"/>
<rect x="336.99" y="445.32" width="3.03" height="0.23"/>
<rect x="340.01" y="445.32" width="3.03" height="0.23"/>
<rect x="343.04" y="444.63" width="3.03" height="0.92"/>
<rect x="346.06" y="445.09" width="3.03" height="0.46"/>
<rect x="349.09" y="445.09" width="3.03" height="0.46"/>
<rect x="352.11" y="443.25" width="3.03" height="2.30"/>
<rect x="355.14" y="441.87" width="3.03" height="3.68"/>
<rect x="358.16" y="436.35" width="3.03" height="9.20"/>
<rect x="361.19" y="428.07" width="3.03" height="17.48"/>
<rect x="364.21" y="409.21" width="3.03" height="36.34"/>
<rect x="367.24" y="410.13" width="3.03" height="35.42"/>
<rect x="370.26" y="411.97" width="3.03" height="33.58"/>
<rect x="373.29" y="425.31" width="3.03" height="20.24"/>
<rect x="376.31" y="430.83" width="3.03" height="14.72"/>
<rect x="379.34" y="428.07" width="3.03" height="17.48"/>
<rect x="382.36" y="427.61" width="3.03" height="17.94"/>
<rect x="385.39" y="439.11" width="3.03" height="6.44"/>
<rect x="388.41" y="436.81" width="3.03" height="8.74"/>
<rect x="391.44" y="434.05" width="3.03" height="11.50"/>
<rect x="394.46" y="441.41" width="3.03" height="4.14"/>
<rect x="397.49" y="443.71" width="3.03" height="1.84"/>
<rect x="400.51" y="444.17" width="3.03" height="1.38"/>
<rect x="403.54" y="445.09" width="3.03" height="0.46"/>
<rect x="406.56" y="445.09" width="3.03" height="0.46"/>
<rect x="409.59" y="444.63" width="3.03" height="0.92"/>
<rect x="412.61" y="443.25" width="3.03" height="2.30"/>
<rect x="415.64" y="444.63" width="3.03" height="0.92"/>
<rect x="418.66" y="444.63" width="3.03" height="0.92"/>
<rect x="421.69" y="445.27" width="3.03" height="0.28"/>
<rect x="424.71" y="445.27" width="3.03" height="0.28"/>
<rect x="427.74" y="445.27" width="3.03" height="0.28"/>
<rect x="430.76" y="445.27" width="3.03" height="0.28"/>
</g>
<path d="M49.6 422.85H53.6" stroke="#000" stroke-width="1.6"/>
<text x="47" y="428.95" font-family="Liberation Sans, sans-serif" font-size="17" text-anchor="end">0.5</text>
<path d="M49.6 400.15H53.6" stroke="#000" stroke-width="1.6"/>
<text x="47" y="406.25" font-family="Liberation Sans, sans-serif" font-size="17" text-anchor="end">1.0</text>
<text x="420.6" y="414.70" font-family="Liberation Sans, sans-serif" font-style="italic" font-size="19.5">ε</text>
<text x="430.5" y="416.80" font-family="Liberation Sans, sans-serif" font-size="12">LB</text>
<path d="M450.8 406.35H461.8M450.8 409.90H461.8" stroke="#000" stroke-width="1.4"/>
<text x="467.0" y="414.00" font-family="Liberation Sans, sans-serif" font-size="17.3" textLength="37.9" lengthAdjust="spacingAndGlyphs">0.37</text>
<rect x="523.2" y="398.10" width="78.67" height="20.6" fill="#f7ca4f" stroke="#333" stroke-width="1.5"/>
<rect x="523.2" y="422.70" width="86.67" height="20.6" fill="#4f5e99" stroke="#333" stroke-width="1.5"/>
<path d="M597.18 408.40H606.55M597.18 404.10V412.70M606.55 404.10V412.70" stroke="#000" stroke-width="1.6" fill="none"/>
<path d="M604.60 433.00H615.14M604.60 428.70V437.30M615.14 428.70V437.30" stroke="#000" stroke-width="1.6" fill="none"/>
<g>
<g fill="#25387e" fill-opacity="0.8" stroke="#000" stroke-opacity="0.75" stroke-width="0.7">
<rect x="85.91" y="495.16" width="3.03" height="0.14"/>
<rect x="88.94" y="495.16" width="3.03" height="0.14"/>
<rect x="91.96" y="495.16" width="3.03" height="0.14"/>
<rect x="94.99" y="495.16" width="3.03" height="0.14"/>
<rect x="98.01" y="495.16" width="3.03" height="0.14"/>
<rect x="101.04" y="495.16" width="3.03" height="0.14"/>
<rect x="104.06" y="495.09" width="3.03" height="0.21"/>
<rect x="107.09" y="494.21" width="3.03" height="1.09"/>
<rect x="110.11" y="493.32" width="3.03" height="1.98"/>
<rect x="113.14" y="493.76" width="3.03" height="1.54"/>
<rect x="116.16" y="493.76" width="3.03" height="1.54"/>
<rect x="119.19" y="492.00" width="3.03" height="3.30"/>
<rect x="122.21" y="487.58" width="3.03" height="7.72"/>
<rect x="125.24" y="490.70" width="3.03" height="4.60"/>
<rect x="128.26" y="492.54" width="3.03" height="2.76"/>
<rect x="131.29" y="490.70" width="3.03" height="4.60"/>
<rect x="134.31" y="492.08" width="3.03" height="3.22"/>
<rect x="137.34" y="490.70" width="3.03" height="4.60"/>
<rect x="140.36" y="487.14" width="3.03" height="8.16"/>
<rect x="143.39" y="487.14" width="3.03" height="8.16"/>
<rect x="146.41" y="490.24" width="3.03" height="5.06"/>
<rect x="149.44" y="484.05" width="3.03" height="11.25"/>
<rect x="152.46" y="482.72" width="3.03" height="12.58"/>
<rect x="155.49" y="468.15" width="3.03" height="27.15"/>
<rect x="158.51" y="460.64" width="3.03" height="34.66"/>
<rect x="161.54" y="456.67" width="3.03" height="38.63"/>
<rect x="164.56" y="453.14" width="3.03" height="42.16"/>
<rect x="167.59" y="457.55" width="3.03" height="37.75"/>
<rect x="170.61" y="460.80" width="3.03" height="34.50"/>
<rect x="173.64" y="464.94" width="3.03" height="30.36"/>
<rect x="176.66" y="468.16" width="3.03" height="27.14"/>
<rect x="179.69" y="471.38" width="3.03" height="23.92"/>
<rect x="182.71" y="475.06" width="3.03" height="20.24"/>
<rect x="185.74" y="477.82" width="3.03" height="17.48"/>
<rect x="188.76" y="483.80" width="3.03" height="11.50"/>
<rect x="191.79" y="486.10" width="3.03" height="9.20"/>
<rect x="194.81" y="487.94" width="3.03" height="7.36"/>
<rect x="197.84" y="488.40" width="3.03" height="6.90"/>
<rect x="200.86" y="488.86" width="3.03" height="6.44"/>
<rect x="203.89" y="489.78" width="3.03" height="5.52"/>
<rect x="206.91" y="488.40" width="3.03" height="6.90"/>
<rect x="209.94" y="485.64" width="3.03" height="9.66"/>
<rect x="212.96" y="482.42" width="3.03" height="12.88"/>
<rect x="215.99" y="482.42" width="3.03" height="12.88"/>
<rect x="219.01" y="482.88" width="3.03" height="12.42"/>
<rect x="222.04" y="484.26" width="3.03" height="11.04"/>
<rect x="225.06" y="486.10" width="3.03" height="9.20"/>
<rect x="228.09" y="487.02" width="3.03" height="8.28"/>
<rect x="231.11" y="486.56" width="3.03" height="8.74"/>
<rect x="234.14" y="486.56" width="3.03" height="8.74"/>
<rect x="237.16" y="486.10" width="3.03" height="9.20"/>
<rect x="240.19" y="483.80" width="3.03" height="11.50"/>
<rect x="243.21" y="483.80" width="3.03" height="11.50"/>
<rect x="246.24" y="484.72" width="3.03" height="10.58"/>
<rect x="249.26" y="485.64" width="3.03" height="9.66"/>
<rect x="252.29" y="486.10" width="3.03" height="9.20"/>
<rect x="255.31" y="485.18" width="3.03" height="10.12"/>
<rect x="258.34" y="482.88" width="3.03" height="12.42"/>
<rect x="261.36" y="484.49" width="3.03" height="10.81"/>
<rect x="264.39" y="487.14" width="3.03" height="8.16"/>
<rect x="267.41" y="487.58" width="3.03" height="7.72"/>
<rect x="270.44" y="492.88" width="3.03" height="2.42"/>
<rect x="273.46" y="494.65" width="3.03" height="0.65"/>
<rect x="282.54" y="495.09" width="3.03" height="0.21"/>
<rect x="285.56" y="494.21" width="3.03" height="1.09"/>
<rect x="288.59" y="492.00" width="3.03" height="3.30"/>
<rect x="291.61" y="489.35" width="3.03" height="5.95"/>
<rect x="294.64" y="492.88" width="3.03" height="2.42"/>
<rect x="297.66" y="495.09" width="3.03" height="0.21"/>
<rect x="300.69" y="495.12" width="3.03" height="0.18"/>
<rect x="303.71" y="495.12" width="3.03" height="0.18"/>
<rect x="306.74" y="495.12" width="3.03" height="0.18"/>
<rect x="309.76" y="495.12" width="3.03" height="0.18"/>
<rect x="312.79" y="495.12" width="3.03" height="0.18"/>
<rect x="315.81" y="495.12" width="3.03" height="0.18"/>
<rect x="318.84" y="495.12" width="3.03" height="0.18"/>
<rect x="321.86" y="495.12" width="3.03" height="0.18"/>
<rect x="324.89" y="495.12" width="3.03" height="0.18"/>
<rect x="327.91" y="495.12" width="3.03" height="0.18"/>
<rect x="330.94" y="495.12" width="3.03" height="0.18"/>
<rect x="333.96" y="495.12" width="3.03" height="0.18"/>
<rect x="336.99" y="495.12" width="3.03" height="0.18"/>
<rect x="340.01" y="495.12" width="3.03" height="0.18"/>
<rect x="343.04" y="495.09" width="3.03" height="0.21"/>
<rect x="352.11" y="494.65" width="3.03" height="0.65"/>
<rect x="355.14" y="493.76" width="3.03" height="1.54"/>
<rect x="358.16" y="489.35" width="3.03" height="5.95"/>
<rect x="361.19" y="483.17" width="3.03" height="12.13"/>
<rect x="364.21" y="468.15" width="3.03" height="27.15"/>
<rect x="367.24" y="469.03" width="3.03" height="26.27"/>
<rect x="370.26" y="470.36" width="3.03" height="24.94"/>
<rect x="373.29" y="481.84" width="3.03" height="13.46"/>
<rect x="376.31" y="485.37" width="3.03" height="9.93"/>
<rect x="379.34" y="483.17" width="3.03" height="12.13"/>
<rect x="382.36" y="482.28" width="3.03" height="13.02"/>
<rect x="385.39" y="491.56" width="3.03" height="3.74"/>
<rect x="388.41" y="489.35" width="3.03" height="5.95"/>
<rect x="391.44" y="487.14" width="3.03" height="8.16"/>
<rect x="394.46" y="493.32" width="3.03" height="1.98"/>
<rect x="397.49" y="494.65" width="3.03" height="0.65"/>
<rect x="400.51" y="494.65" width="3.03" height="0.65"/>
<rect x="403.54" y="495.09" width="3.03" height="0.21"/>
<rect x="406.56" y="495.09" width="3.03" height="0.21"/>
<rect x="409.59" y="495.09" width="3.03" height="0.21"/>
<rect x="412.61" y="494.21" width="3.03" height="1.09"/>
<rect x="415.64" y="495.09" width="3.03" height="0.21"/>
<rect x="418.66" y="495.09" width="3.03" height="0.21"/>
<rect x="421.69" y="495.07" width="3.03" height="0.23"/>
<rect x="424.71" y="495.07" width="3.03" height="0.23"/>
<rect x="427.74" y="495.07" width="3.03" height="0.23"/>
<rect x="430.76" y="495.07" width="3.03" height="0.23"/>
</g>
<g fill="#f4bd20" fill-opacity="0.82" stroke="#000" stroke-opacity="0.7" stroke-width="0.7">
<rect x="85.91" y="495.12" width="3.03" height="0.18"/>
<rect x="88.94" y="495.12" width="3.03" height="0.18"/>
<rect x="91.96" y="495.12" width="3.03" height="0.18"/>
<rect x="94.99" y="495.12" width="3.03" height="0.18"/>
<rect x="98.01" y="495.12" width="3.03" height="0.18"/>
<rect x="101.04" y="495.12" width="3.03" height="0.18"/>
<rect x="104.06" y="494.84" width="3.03" height="0.46"/>
<rect x="107.09" y="493.92" width="3.03" height="1.38"/>
<rect x="110.11" y="493.00" width="3.03" height="2.30"/>
<rect x="113.14" y="493.46" width="3.03" height="1.84"/>
<rect x="116.16" y="493.46" width="3.03" height="1.84"/>
<rect x="119.19" y="491.62" width="3.03" height="3.68"/>
<rect x="122.21" y="487.02" width="3.03" height="8.28"/>
<rect x="125.24" y="491.62" width="3.03" height="3.68"/>
<rect x="128.26" y="493.46" width="3.03" height="1.84"/>
<rect x="131.29" y="493.00" width="3.03" height="2.30"/>
<rect x="134.31" y="493.46" width="3.03" height="1.84"/>
<rect x="137.34" y="493.00" width="3.03" height="2.30"/>
<rect x="140.36" y="486.56" width="3.03" height="8.74"/>
<rect x="143.39" y="486.56" width="3.03" height="8.74"/>
<rect x="146.41" y="491.16" width="3.03" height="4.14"/>
<rect x="149.44" y="483.34" width="3.03" height="11.96"/>
<rect x="152.46" y="481.96" width="3.03" height="13.34"/>
<rect x="155.49" y="466.78" width="3.03" height="28.52"/>
<rect x="158.51" y="458.96" width="3.03" height="36.34"/>
<rect x="161.54" y="454.82" width="3.03" height="40.48"/>
<rect x="164.56" y="451.14" width="3.03" height="44.16"/>
<rect x="167.59" y="455.74" width="3.03" height="39.56"/>
<rect x="170.61" y="464.94" width="3.03" height="30.36"/>
<rect x="173.64" y="471.84" width="3.03" height="23.46"/>
<rect x="176.66" y="476.90" width="3.03" height="18.40"/>
<rect x="179.69" y="482.42" width="3.03" height="12.88"/>
<rect x="182.71" y="485.64" width="3.03" height="9.66"/>
<rect x="185.74" y="487.94" width="3.03" height="7.36"/>
<rect x="188.76" y="491.16" width="3.03" height="4.14"/>
<rect x="191.79" y="492.54" width="3.03" height="2.76"/>
<rect x="194.81" y="493.46" width="3.03" height="1.84"/>
<rect x="197.84" y="493.92" width="3.03" height="1.38"/>
<rect x="200.86" y="493.92" width="3.03" height="1.38"/>
<rect x="203.89" y="494.38" width="3.03" height="0.92"/>
<rect x="206.91" y="494.38" width="3.03" height="0.92"/>
<rect x="209.94" y="493.46" width="3.03" height="1.84"/>
<rect x="212.96" y="493.00" width="3.03" height="2.30"/>
<rect x="215.99" y="493.00" width="3.03" height="2.30"/>
<rect x="219.01" y="493.00" width="3.03" height="2.30"/>
<rect x="222.04" y="493.46" width="3.03" height="1.84"/>
<rect x="225.06" y="493.46" width="3.03" height="1.84"/>
<rect x="228.09" y="493.46" width="3.03" height="1.84"/>
<rect x="231.11" y="493.46" width="3.03" height="1.84"/>
<rect x="234.14" y="493.00" width="3.03" height="2.30"/>
<rect x="237.16" y="492.08" width="3.03" height="3.22"/>
<rect x="240.19" y="490.70" width="3.03" height="4.60"/>
<rect x="243.21" y="490.24" width="3.03" height="5.06"/>
<rect x="246.24" y="489.78" width="3.03" height="5.52"/>
<rect x="249.26" y="488.86" width="3.03" height="6.44"/>
<rect x="252.29" y="488.86" width="3.03" height="6.44"/>
<rect x="255.31" y="487.48" width="3.03" height="7.82"/>
<rect x="258.34" y="483.80" width="3.03" height="11.50"/>
<rect x="261.36" y="483.80" width="3.03" height="11.50"/>
<rect x="264.39" y="486.56" width="3.03" height="8.74"/>
<rect x="267.41" y="487.02" width="3.03" height="8.28"/>
<rect x="270.44" y="492.54" width="3.03" height="2.76"/>
<rect x="273.46" y="494.38" width="3.03" height="0.92"/>
<rect x="282.54" y="494.84" width="3.03" height="0.46"/>
<rect x="285.56" y="493.92" width="3.03" height="1.38"/>
<rect x="288.59" y="491.62" width="3.03" height="3.68"/>
<rect x="291.61" y="488.86" width="3.03" height="6.44"/>
<rect x="294.64" y="492.54" width="3.03" height="2.76"/>
<rect x="297.66" y="494.84" width="3.03" height="0.46"/>
<rect x="300.69" y="495.07" width="3.03" height="0.23"/>
<rect x="303.71" y="495.07" width="3.03" height="0.23"/>
<rect x="306.74" y="495.07" width="3.03" height="0.23"/>
<rect x="309.76" y="495.07" width="3.03" height="0.23"/>
<rect x="312.79" y="495.07" width="3.03" height="0.23"/>
<rect x="315.81" y="495.07" width="3.03" height="0.23"/>
<rect x="318.84" y="495.07" width="3.03" height="0.23"/>
<rect x="321.86" y="495.07" width="3.03" height="0.23"/>
<rect x="324.89" y="495.07" width="3.03" height="0.23"/>
<rect x="327.91" y="495.07" width="3.03" height="0.23"/>
<rect x="330.94" y="495.07" width="3.03" height="0.23"/>
<rect x="333.96" y="495.07" width="3.03" height="0.23"/>
<rect x="336.99" y="495.07" width="3.03" height="0.23"/>
<rect x="340.01" y="495.07" width="3.03" height="0.23"/>
<rect x="343.04" y="494.84" width="3.03" height="0.46"/>
<rect x="352.11" y="494.38" width="3.03" height="0.92"/>
<rect x="355.14" y="493.46" width="3.03" height="1.84"/>
<rect x="358.16" y="488.86" width="3.03" height="6.44"/>
<rect x="361.19" y="482.42" width="3.03" height="12.88"/>
<rect x="364.21" y="466.78" width="3.03" height="28.52"/>
<rect x="367.24" y="467.70" width="3.03" height="27.60"/>
<rect x="370.26" y="469.08" width="3.03" height="26.22"/>
<rect x="373.29" y="481.04" width="3.03" height="14.26"/>
<rect x="376.31" y="484.72" width="3.03" height="10.58"/>
<rect x="379.34" y="482.42" width="3.03" height="12.88"/>
<rect x="382.36" y="481.50" width="3.03" height="13.80"/>
<rect x="385.39" y="491.16" width="3.03" height="4.14"/>
<rect x="388.41" y="488.86" width="3.03" height="6.44"/>
<rect x="391.44" y="486.56" width="3.03" height="8.74"/>
<rect x="394.46" y="493.00" width="3.03" height="2.30"/>
<rect x="397.49" y="494.38" width="3.03" height="0.92"/>
<rect x="400.51" y="494.38" width="3.03" height="0.92"/>
<rect x="403.54" y="494.84" width="3.03" height="0.46"/>
<rect x="406.56" y="494.84" width="3.03" height="0.46"/>
<rect x="409.59" y="494.84" width="3.03" height="0.46"/>
<rect x="412.61" y="493.92" width="3.03" height="1.38"/>
<rect x="415.64" y="494.84" width="3.03" height="0.46"/>
<rect x="418.66" y="494.84" width="3.03" height="0.46"/>
<rect x="421.69" y="495.02" width="3.03" height="0.28"/>
<rect x="424.71" y="495.02" width="3.03" height="0.28"/>
<rect x="427.74" y="495.02" width="3.03" height="0.28"/>
<rect x="430.76" y="495.02" width="3.03" height="0.28"/>
</g>
<path d="M49.6 472.60H53.6" stroke="#000" stroke-width="1.6"/>
<text x="47" y="478.70" font-family="Liberation Sans, sans-serif" font-size="17" text-anchor="end">0.5</text>
<path d="M49.6 449.90H53.6" stroke="#000" stroke-width="1.6"/>
<text x="47" y="456.00" font-family="Liberation Sans, sans-serif" font-size="17" text-anchor="end">1.0</text>
<text x="420.6" y="464.45" font-family="Liberation Sans, sans-serif" font-style="italic" font-size="19.5">ε</text>
<text x="430.5" y="466.55" font-family="Liberation Sans, sans-serif" font-size="12">LB</text>
<path d="M450.8 456.10H461.8M450.8 459.65H461.8" stroke="#000" stroke-width="1.4"/>
<text x="467.0" y="463.75" font-family="Liberation Sans, sans-serif" font-size="17.3" textLength="37.9" lengthAdjust="spacingAndGlyphs">0.40</text>
<rect x="523.2" y="447.85" width="78.67" height="20.6" fill="#f7ca4f" stroke="#333" stroke-width="1.5"/>
<rect x="523.2" y="472.45" width="108.53" height="20.6" fill="#4f5e99" stroke="#333" stroke-width="1.5"/>
<path d="M596.99 458.15H606.75M596.99 453.85V462.45M606.75 453.85V462.45" stroke="#000" stroke-width="1.6" fill="none"/>
<path d="M626.85 482.75H636.61M626.85 478.45V487.05M636.61 478.45V487.05" stroke="#000" stroke-width="1.6" fill="none"/>
<g>
<g fill="#25387e" fill-opacity="0.8" stroke="#000" stroke-opacity="0.75" stroke-width="0.7">
<rect x="85.91" y="544.96" width="3.03" height="0.14"/>
<rect x="88.94" y="544.96" width="3.03" height="0.14"/>
<rect x="91.96" y="544.96" width="3.03" height="0.14"/>
<rect x="94.99" y="544.96" width="3.03" height="0.14"/>
<rect x="98.01" y="544.96" width="3.03" height="0.14"/>
<rect x="101.04" y="544.96" width="3.03" height="0.14"/>
<rect x="104.06" y="544.96" width="3.03" height="0.14"/>
<rect x="107.09" y="544.01" width="3.03" height="1.09"/>
<rect x="110.11" y="543.56" width="3.03" height="1.54"/>
<rect x="113.14" y="543.56" width="3.03" height="1.54"/>
<rect x="116.16" y="544.01" width="3.03" height="1.09"/>
<rect x="119.19" y="541.80" width="3.03" height="3.30"/>
<rect x="122.21" y="537.38" width="3.03" height="7.72"/>
<rect x="125.24" y="542.24" width="3.03" height="2.86"/>
<rect x="128.26" y="544.89" width="3.03" height="0.21"/>
<rect x="131.29" y="544.01" width="3.03" height="1.09"/>
<rect x="134.31" y="544.45" width="3.03" height="0.65"/>
<rect x="137.34" y="543.56" width="3.03" height="1.54"/>
<rect x="140.36" y="537.82" width="3.03" height="7.28"/>
<rect x="143.39" y="537.82" width="3.03" height="7.28"/>
<rect x="146.41" y="541.80" width="3.03" height="3.30"/>
<rect x="149.44" y="534.29" width="3.03" height="10.81"/>
<rect x="152.46" y="532.97" width="3.03" height="12.13"/>
<rect x="155.49" y="517.07" width="3.03" height="28.03"/>
<rect x="158.51" y="510.44" width="3.03" height="34.66"/>
<rect x="161.54" y="506.47" width="3.03" height="38.63"/>
<rect x="164.56" y="502.94" width="3.03" height="42.16"/>
<rect x="167.59" y="507.35" width="3.03" height="37.75"/>
<rect x="170.61" y="513.82" width="3.03" height="31.28"/>
<rect x="173.64" y="517.50" width="3.03" height="27.60"/>
<rect x="176.66" y="519.80" width="3.03" height="25.30"/>
<rect x="179.69" y="523.02" width="3.03" height="22.08"/>
<rect x="182.71" y="525.78" width="3.03" height="19.32"/>
<rect x="185.74" y="529.00" width="3.03" height="16.10"/>
<rect x="188.76" y="534.06" width="3.03" height="11.04"/>
<rect x="191.79" y="535.44" width="3.03" height="9.66"/>
<rect x="194.81" y="537.28" width="3.03" height="7.82"/>
<rect x="197.84" y="536.82" width="3.03" height="8.28"/>
<rect x="200.86" y="536.82" width="3.03" height="8.28"/>
<rect x="203.89" y="537.28" width="3.03" height="7.82"/>
<rect x="206.91" y="535.44" width="3.03" height="9.66"/>
<rect x="209.94" y="531.30" width="3.03" height="13.80"/>
<rect x="212.96" y="526.70" width="3.03" height="18.40"/>
<rect x="215.99" y="526.24" width="3.03" height="18.86"/>
<rect x="219.01" y="527.16" width="3.03" height="17.94"/>
<rect x="222.04" y="529.46" width="3.03" height="15.64"/>
<rect x="225.06" y="531.30" width="3.03" height="13.80"/>
<rect x="228.09" y="533.60" width="3.03" height="11.50"/>
<rect x="231.11" y="533.14" width="3.03" height="11.96"/>
<rect x="234.14" y="532.22" width="3.03" height="12.88"/>
<rect x="237.16" y="532.68" width="3.03" height="12.42"/>
<rect x="240.19" y="529.92" width="3.03" height="15.18"/>
<rect x="243.21" y="529.92" width="3.03" height="15.18"/>
<rect x="246.24" y="531.76" width="3.03" height="13.34"/>
<rect x="249.26" y="533.14" width="3.03" height="11.96"/>
<rect x="252.29" y="534.98" width="3.03" height="10.12"/>
<rect x="255.31" y="534.06" width="3.03" height="11.04"/>
<rect x="258.34" y="532.22" width="3.03" height="12.88"/>
<rect x="261.36" y="534.73" width="3.03" height="10.37"/>
<rect x="264.39" y="537.38" width="3.03" height="7.72"/>
<rect x="267.41" y="537.82" width="3.03" height="7.28"/>
<rect x="270.44" y="542.68" width="3.03" height="2.42"/>
<rect x="273.46" y="544.45" width="3.03" height="0.65"/>
<rect x="285.56" y="544.01" width="3.03" height="1.09"/>
<rect x="288.59" y="541.80" width="3.03" height="3.30"/>
<rect x="291.61" y="539.15" width="3.03" height="5.95"/>
<rect x="294.64" y="542.68" width="3.03" height="2.42"/>
<rect x="297.66" y="544.89" width="3.03" height="0.21"/>
<rect x="300.69" y="544.92" width="3.03" height="0.18"/>
<rect x="303.71" y="544.92" width="3.03" height="0.18"/>
<rect x="306.74" y="544.92" width="3.03" height="0.18"/>
<rect x="309.76" y="544.92" width="3.03" height="0.18"/>
<rect x="312.79" y="544.92" width="3.03" height="0.18"/>
<rect x="315.81" y="544.92" width="3.03" height="0.18"/>
<rect x="318.84" y="544.92" width="3.03" height="0.18"/>
<rect x="321.86" y="544.92" width="3.03" height="0.18"/>
<rect x="324.89" y="544.92" width="3.03" height="0.18"/>
<rect x="327.91" y="544.92" width="3.03" height="0.18"/>
<rect x="330.94" y="544.92" width="3.03" height="0.18"/>
<rect x="333.96" y="544.92" width="3.03" height="0.18"/>
<rect x="336.99" y="544.92" width="3.03" height="0.18"/>
<rect x="340.01" y="544.92" width="3.03" height="0.18"/>
<rect x="352.11" y="544.45" width="3.03" height="0.65"/>
<rect x="355.14" y="543.56" width="3.03" height="1.54"/>
<rect x="358.16" y="539.15" width="3.03" height="5.95"/>
<rect x="361.19" y="532.97" width="3.03" height="12.13"/>
<rect x="364.21" y="517.95" width="3.03" height="27.15"/>
<rect x="367.24" y="518.83" width="3.03" height="26.27"/>
<rect x="370.26" y="520.16" width="3.03" height="24.94"/>
<rect x="373.29" y="531.20" width="3.03" height="13.90"/>
<rect x="376.31" y="534.73" width="3.03" height="10.37"/>
<rect x="379.34" y="532.97" width="3.03" height="12.13"/>
<rect x="382.36" y="531.64" width="3.03" height="13.46"/>
<rect x="385.39" y="541.36" width="3.03" height="3.74"/>
<rect x="388.41" y="539.15" width="3.03" height="5.95"/>
<rect x="391.44" y="536.50" width="3.03" height="8.60"/>
<rect x="394.46" y="543.12" width="3.03" height="1.98"/>
<rect x="397.49" y="544.45" width="3.03" height="0.65"/>
<rect x="400.51" y="544.45" width="3.03" height="0.65"/>
<rect x="412.61" y="544.01" width="3.03" height="1.09"/>
<rect x="415.64" y="544.87" width="3.03" height="0.23"/>
<rect x="418.66" y="544.87" width="3.03" height="0.23"/>
<rect x="421.69" y="544.87" width="3.03" height="0.23"/>
<rect x="424.71" y="544.87" width="3.03" height="0.23"/>
<rect x="427.74" y="544.87" width="3.03" height="0.23"/>
<rect x="430.76" y="544.87" width="3.03" height="0.23"/>
</g>
<g fill="#f4bd20" fill-opacity="0.82" stroke="#000" stroke-opacity="0.7" stroke-width="0.7">
<rect x="85.91" y="544.92" width="3.03" height="0.18"/>
<rect x="88.94" y="544.92" width="3.03" height="0.18"/>
<rect x="91.96" y="544.92" width="3.03" height="0.18"/>
<rect x="94.99" y="544.92" width="3.03" height="0.18"/>
<rect x="98.01" y="544.92" width="3.03" height="0.18"/>
<rect x="101.04" y="544.92" width="3.03" height="0.18"/>
<rect x="104.06" y="544.92" width="3.03" height="0.18"/>
<rect x="107.09" y="543.72" width="3.03" height="1.38"/>
<rect x="110.11" y="543.26" width="3.03" height="1.84"/>
<rect x="113.14" y="543.26" width="3.03" height="1.84"/>
<rect x="116.16" y="543.72" width="3.03" height="1.38"/>
<rect x="119.19" y="541.42" width="3.03" height="3.68"/>
<rect x="122.21" y="536.82" width="3.03" height="8.28"/>
<rect x="125.24" y="541.88" width="3.03" height="3.22"/>
<rect x="128.26" y="544.64" width="3.03" height="0.46"/>
<rect x="131.29" y="543.72" width="3.03" height="1.38"/>
<rect x="134.31" y="544.18" width="3.03" height="0.92"/>
<rect x="137.34" y="543.26" width="3.03" height="1.84"/>
<rect x="140.36" y="537.28" width="3.03" height="7.82"/>
<rect x="143.39" y="537.28" width="3.03" height="7.82"/>
<rect x="146.41" y="541.42" width="3.03" height="3.68"/>
<rect x="149.44" y="533.60" width="3.03" height="11.50"/>
<rect x="152.46" y="532.22" width="3.03" height="12.88"/>
<rect x="155.49" y="515.66" width="3.03" height="29.44"/>
<rect x="158.51" y="508.76" width="3.03" height="36.34"/>
<rect x="161.54" y="504.62" width="3.03" height="40.48"/>
<rect x="164.56" y="500.94" width="3.03" height="44.16"/>
<rect x="167.59" y="505.54" width="3.03" height="39.56"/>
<rect x="170.61" y="515.20" width="3.03" height="29.90"/>
<rect x="173.64" y="521.64" width="3.03" height="23.46"/>
<rect x="176.66" y="527.16" width="3.03" height="17.94"/>
<rect x="179.69" y="532.22" width="3.03" height="12.88"/>
<rect x="182.71" y="535.44" width="3.03" height="9.66"/>
<rect x="185.74" y="537.74" width="3.03" height="7.36"/>
<rect x="188.76" y="541.42" width="3.03" height="3.68"/>
<rect x="191.79" y="542.34" width="3.03" height="2.76"/>
<rect x="194.81" y="543.26" width="3.03" height="1.84"/>
<rect x="197.84" y="543.72" width="3.03" height="1.38"/>
<rect x="200.86" y="543.72" width="3.03" height="1.38"/>
<rect x="203.89" y="543.72" width="3.03" height="1.38"/>
<rect x="206.91" y="543.72" width="3.03" height="1.38"/>
<rect x="209.94" y="543.26" width="3.03" height="1.84"/>
<rect x="212.96" y="542.80" width="3.03" height="2.30"/>
<rect x="215.99" y="542.80" width="3.03" height="2.30"/>
<rect x="219.01" y="543.26" width="3.03" height="1.84"/>
<rect x="222.04" y="543.26" width="3.03" height="1.84"/>
<rect x="225.06" y="543.26" width="3.03" height="1.84"/>
<rect x="228.09" y="543.26" width="3.03" height="1.84"/>
<rect x="231.11" y="543.26" width="3.03" height="1.84"/>
<rect x="234.14" y="542.34" width="3.03" height="2.76"/>
<rect x="237.16" y="541.88" width="3.03" height="3.22"/>
<rect x="240.19" y="540.96" width="3.03" height="4.14"/>
<rect x="243.21" y="540.04" width="3.03" height="5.06"/>
<rect x="246.24" y="540.04" width="3.03" height="5.06"/>
<rect x="249.26" y="539.12" width="3.03" height="5.98"/>
<rect x="252.29" y="539.12" width="3.03" height="5.98"/>
<rect x="255.31" y="537.74" width="3.03" height="7.36"/>
<rect x="258.34" y="534.06" width="3.03" height="11.04"/>
<rect x="261.36" y="534.06" width="3.03" height="11.04"/>
<rect x="264.39" y="536.82" width="3.03" height="8.28"/>
<rect x="267.41" y="537.28" width="3.03" height="7.82"/>
<rect x="270.44" y="542.34" width="3.03" height="2.76"/>
<rect x="273.46" y="544.18" width="3.03" height="0.92"/>
<rect x="285.56" y="543.72" width="3.03" height="1.38"/>
<rect x="288.59" y="541.42" width="3.03" height="3.68"/>
<rect x="291.61" y="538.66" width="3.03" height="6.44"/>
<rect x="294.64" y="542.34" width="3.03" height="2.76"/>
<rect x="297.66" y="544.64" width="3.03" height="0.46"/>
<rect x="300.69" y="544.87" width="3.03" height="0.23"/>
<rect x="303.71" y="544.87" width="3.03" height="0.23"/>
<rect x="306.74" y="544.87" width="3.03" height="0.23"/>
<rect x="309.76" y="544.87" width="3.03" height="0.23"/>
<rect x="312.79" y="544.87" width="3.03" height="0.23"/>
<rect x="315.81" y="544.87" width="3.03" height="0.23"/>
<rect x="318.84" y="544.87" width="3.03" height="0.23"/>
<rect x="321.86" y="544.87" width="3.03" height="0.23"/>
<rect x="324.89" y="544.87" width="3.03" height="0.23"/>
<rect x="327.91" y="544.87" width="3.03" height="0.23"/>
<rect x="330.94" y="544.87" width="3.03" height="0.23"/>
<rect x="333.96" y="544.87" width="3.03" height="0.23"/>
<rect x="336.99" y="544.87" width="3.03" height="0.23"/>
<rect x="340.01" y="544.87" width="3.03" height="0.23"/>
<rect x="352.11" y="544.18" width="3.03" height="0.92"/>
<rect x="355.14" y="543.26" width="3.03" height="1.84"/>
<rect x="358.16" y="538.66" width="3.03" height="6.44"/>
<rect x="361.19" y="532.22" width="3.03" height="12.88"/>
<rect x="364.21" y="516.58" width="3.03" height="28.52"/>
<rect x="367.24" y="517.50" width="3.03" height="27.60"/>
<rect x="370.26" y="518.88" width="3.03" height="26.22"/>
<rect x="373.29" y="530.38" width="3.03" height="14.72"/>
<rect x="376.31" y="534.06" width="3.03" height="11.04"/>
<rect x="379.34" y="532.22" width="3.03" height="12.88"/>
<rect x="382.36" y="530.84" width="3.03" height="14.26"/>
<rect x="385.39" y="540.96" width="3.03" height="4.14"/>
<rect x="388.41" y="538.66" width="3.03" height="6.44"/>
<rect x="391.44" y="535.90" width="3.03" height="9.20"/>
<rect x="394.46" y="542.80" width="3.03" height="2.30"/>
<rect x="397.49" y="544.18" width="3.03" height="0.92"/>
<rect x="400.51" y="544.18" width="3.03" height="0.92"/>
<rect x="412.61" y="543.72" width="3.03" height="1.38"/>
<rect x="415.64" y="544.82" width="3.03" height="0.28"/>
<rect x="418.66" y="544.82" width="3.03" height="0.28"/>
<rect x="421.69" y="544.82" width="3.03" height="0.28"/>
<rect x="424.71" y="544.82" width="3.03" height="0.28"/>
<rect x="427.74" y="544.82" width="3.03" height="0.28"/>
<rect x="430.76" y="544.82" width="3.03" height="0.28"/>
</g>
<path d="M49.6 522.40H53.6" stroke="#000" stroke-width="1.6"/>
<text x="47" y="528.50" font-family="Liberation Sans, sans-serif" font-size="17" text-anchor="end">0.5</text>
<path d="M49.6 499.70H53.6" stroke="#000" stroke-width="1.6"/>
<text x="47" y="505.80" font-family="Liberation Sans, sans-serif" font-size="17" text-anchor="end">1.0</text>
<text x="420.6" y="514.20" font-family="Liberation Sans, sans-serif" font-style="italic" font-size="19.5">ε</text>
<text x="430.5" y="516.30" font-family="Liberation Sans, sans-serif" font-size="12">LB</text>
<path d="M450.8 505.85H461.8M450.8 509.40H461.8" stroke="#000" stroke-width="1.4"/>
<text x="467.0" y="513.50" font-family="Liberation Sans, sans-serif" font-size="17.3" textLength="37.9" lengthAdjust="spacingAndGlyphs">0.45</text>
<rect x="523.2" y="497.60" width="77.30" height="20.6" fill="#f7ca4f" stroke="#333" stroke-width="1.5"/>
<rect x="523.2" y="522.20" width="129.61" height="20.6" fill="#4f5e99" stroke="#333" stroke-width="1.5"/>
<path d="M594.64 507.90H606.36M594.64 503.60V512.20M606.36 503.60V512.20" stroke="#000" stroke-width="1.6" fill="none"/>
<path d="M646.96 532.50H658.67M646.96 528.20V536.80M658.67 528.20V536.80" stroke="#000" stroke-width="1.6" fill="none"/>
<rect x="49.6" y="296.3" width="473.30" height="49.75" fill="none" stroke="#000" stroke-width="1.8"/>
<rect x="522.9" y="296.3" width="159.00" height="49.75" fill="none" stroke="#000" stroke-width="1.8"/>
<rect x="49.6" y="346.05" width="473.30" height="49.75" fill="none" stroke="#000" stroke-width="1.8"/>
<rect x="522.9" y="346.05" width="159.00" height="49.75" fill="none" stroke="#000" stroke-width="1.8"/>
<rect x="49.6" y="395.8" width="473.30" height="49.75" fill="none" stroke="#000" stroke-width="1.8"/>
<rect x="522.9" y="395.8" width="159.00" height="49.75" fill="none" stroke="#000" stroke-width="1.8"/>
<rect x="49.6" y="445.55" width="473.30" height="49.75" fill="none" stroke="#000" stroke-width="1.8"/>
<rect x="522.9" y="445.55" width="159.00" height="49.75" fill="none" stroke="#000" stroke-width="1.8"/>
<rect x="49.6" y="495.3" width="473.30" height="49.80" fill="none" stroke="#000" stroke-width="1.8"/>
<rect x="522.9" y="495.3" width="159.00" height="49.80" fill="none" stroke="#000" stroke-width="1.8"/>
<path d="M72.30 545.1V549.4" stroke="#000" stroke-width="1.6"/>
<text x="72.30" y="564" font-family="Liberation Sans, sans-serif" font-size="16.5" text-anchor="middle">383</text>
<path d="M163.05 545.1V549.4" stroke="#000" stroke-width="1.6"/>
<text x="163.05" y="564" font-family="Liberation Sans, sans-serif" font-size="16.5" text-anchor="middle">413</text>
<path d="M253.80 545.1V549.4" stroke="#000" stroke-width="1.6"/>
<text x="253.80" y="564" font-family="Liberation Sans, sans-serif" font-size="16.5" text-anchor="middle">443</text>
<path d="M344.55 545.1V549.4" stroke="#000" stroke-width="1.6"/>
<text x="344.55" y="564" font-family="Liberation Sans, sans-serif" font-size="16.5" text-anchor="middle">473</text>
<path d="M435.30 545.1V549.4" stroke="#000" stroke-width="1.6"/>
<text x="435.30" y="564" font-family="Liberation Sans, sans-serif" font-size="16.5" text-anchor="middle">503</text>
<path d="M523.20 545.1V549.4" stroke="#000" stroke-width="1.6"/>
<text x="523.20" y="564" font-family="Liberation Sans, sans-serif" font-size="16.5" text-anchor="middle">50</text>
<path d="M572.00 545.1V549.4" stroke="#000" stroke-width="1.6"/>
<text x="572.00" y="564" font-family="Liberation Sans, sans-serif" font-size="16.5" text-anchor="middle">75</text>
<path d="M620.80 545.1V549.4" stroke="#000" stroke-width="1.6"/>
<text x="620.80" y="564" font-family="Liberation Sans, sans-serif" font-size="16.5" text-anchor="middle">100</text>
<path d="M669.60 545.1V549.4" stroke="#000" stroke-width="1.6"/>
<text x="669.60" y="564" font-family="Liberation Sans, sans-serif" font-size="16.5" text-anchor="middle">125</text>
<text x="286.4" y="581.8" font-family="Liberation Sans, sans-serif" font-size="17.3" text-anchor="middle">Residue index</text>
<text x="603.2" y="581.8" font-family="Liberation Sans, sans-serif" font-size="17.4" text-anchor="middle">Number of contacts</text>
<text transform="translate(18.3 420.4) rotate(-90)" font-family="Liberation Sans, sans-serif" font-size="17.5" text-anchor="middle">Normalized contact</text>
<rect x="53.6" y="304" width="30.8" height="10.6" fill="#4f5e99" stroke="#333" stroke-opacity="0.6" stroke-width="0.8"/>
<rect x="53.6" y="326.1" width="30.8" height="10.4" fill="#f7ca4f" stroke="#333" stroke-opacity="0.6" stroke-width="0.8"/>
<text x="97.2" y="315" font-family="Liberation Sans, sans-serif" font-size="15.6" textLength="8.0" lengthAdjust="spacingAndGlyphs">S</text><text x="106.6" y="317.2" font-family="Liberation Sans, sans-serif" font-size="12.6">nl</text>
<text x="97.2" y="336.8" font-family="Liberation Sans, sans-serif" font-size="15.6" textLength="8.0" lengthAdjust="spacingAndGlyphs">S</text><text x="106.6" y="339.0" font-family="Liberation Sans, sans-serif" font-size="12.6">l</text>
</svg></body></html>
